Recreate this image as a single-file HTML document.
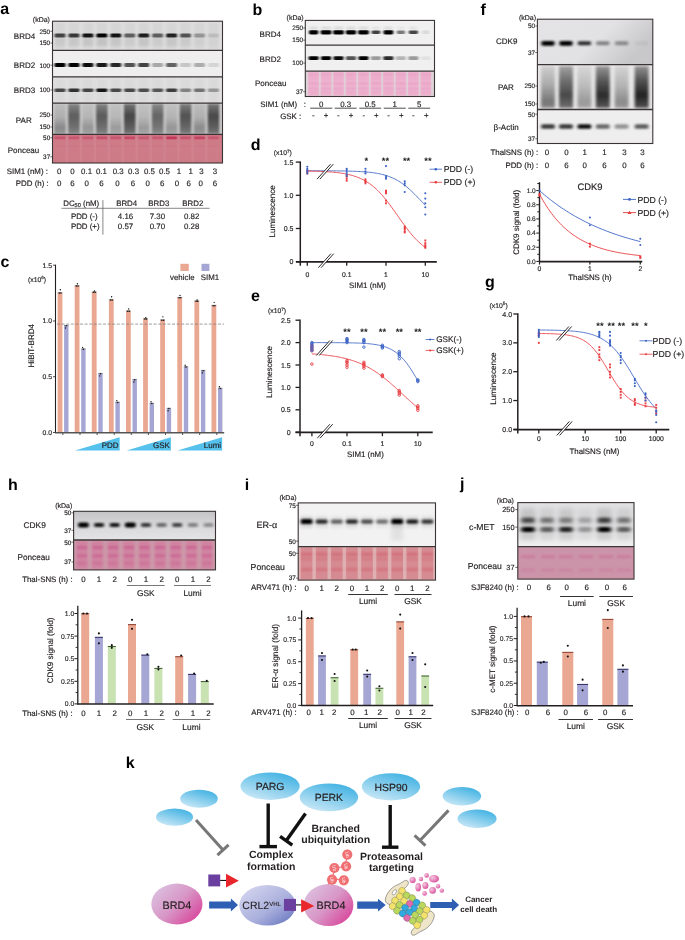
<!DOCTYPE html>
<html><head><meta charset="utf-8"><style>
html,body{margin:0;padding:0;background:#fff;}
svg{display:block;font-family:"Liberation Sans",sans-serif;text-rendering:geometricPrecision;will-change:transform;}
</style></head><body>
<svg width="685" height="940" viewBox="0 0 685 940">
<defs><filter id="b6" x="-50%" y="-50%" width="200%" height="200%"><feGaussianBlur stdDeviation="0.6"/></filter><filter id="bx6" x="-50%" y="-80%" width="200%" height="260%"><feGaussianBlur stdDeviation="0.90 0.60"/></filter><filter id="b7" x="-50%" y="-50%" width="200%" height="200%"><feGaussianBlur stdDeviation="0.7"/></filter><filter id="bx7" x="-50%" y="-80%" width="200%" height="260%"><feGaussianBlur stdDeviation="1.05 0.70"/></filter><filter id="b8" x="-50%" y="-50%" width="200%" height="200%"><feGaussianBlur stdDeviation="0.8"/></filter><filter id="bx8" x="-50%" y="-80%" width="200%" height="260%"><feGaussianBlur stdDeviation="1.20 0.80"/></filter><filter id="b9" x="-50%" y="-50%" width="200%" height="200%"><feGaussianBlur stdDeviation="0.9"/></filter><filter id="bx9" x="-50%" y="-80%" width="200%" height="260%"><feGaussianBlur stdDeviation="1.35 0.90"/></filter><filter id="b10" x="-50%" y="-50%" width="200%" height="200%"><feGaussianBlur stdDeviation="1.0"/></filter><filter id="bx10" x="-50%" y="-80%" width="200%" height="260%"><feGaussianBlur stdDeviation="1.50 1.00"/></filter><filter id="b12" x="-50%" y="-50%" width="200%" height="200%"><feGaussianBlur stdDeviation="1.2"/></filter><filter id="bx12" x="-50%" y="-80%" width="200%" height="260%"><feGaussianBlur stdDeviation="1.80 1.20"/></filter><filter id="b13" x="-50%" y="-50%" width="200%" height="200%"><feGaussianBlur stdDeviation="1.3"/></filter><filter id="bx13" x="-50%" y="-80%" width="200%" height="260%"><feGaussianBlur stdDeviation="1.95 1.30"/></filter><filter id="b15" x="-50%" y="-50%" width="200%" height="200%"><feGaussianBlur stdDeviation="1.5"/></filter><filter id="bx15" x="-50%" y="-80%" width="200%" height="260%"><feGaussianBlur stdDeviation="2.25 1.50"/></filter><filter id="b20" x="-50%" y="-50%" width="200%" height="200%"><feGaussianBlur stdDeviation="2.0"/></filter><filter id="bx20" x="-50%" y="-80%" width="200%" height="260%"><feGaussianBlur stdDeviation="3.00 2.00"/></filter><filter id="b25" x="-50%" y="-50%" width="200%" height="200%"><feGaussianBlur stdDeviation="2.5"/></filter><filter id="bx25" x="-50%" y="-80%" width="200%" height="260%"><feGaussianBlur stdDeviation="3.75 2.50"/></filter><filter id="b30" x="-50%" y="-50%" width="200%" height="200%"><feGaussianBlur stdDeviation="3.0"/></filter><filter id="bx30" x="-50%" y="-80%" width="200%" height="260%"><feGaussianBlur stdDeviation="4.50 3.00"/></filter><filter id="b40" x="-50%" y="-50%" width="200%" height="200%"><feGaussianBlur stdDeviation="4.0"/></filter><filter id="bx40" x="-50%" y="-80%" width="200%" height="260%"><feGaussianBlur stdDeviation="6.00 4.00"/></filter><linearGradient id="parg" x1="0" y1="0" x2="0" y2="1"><stop offset="0" stop-color="#2a2a2a"/><stop offset="0.45" stop-color="#383838"/><stop offset="1" stop-color="#606060"/></linearGradient><linearGradient id="parodd" x1="0" y1="0" x2="0" y2="1"><stop offset="0" stop-color="#b4b4b6"/><stop offset="0.45" stop-color="#9c9c9e"/><stop offset="0.78" stop-color="#606062"/><stop offset="1" stop-color="#747476"/></linearGradient><linearGradient id="pareven" x1="0" y1="0" x2="0" y2="1"><stop offset="0" stop-color="#6a6a6a"/><stop offset="0.4" stop-color="#333"/><stop offset="0.75" stop-color="#4a4a4a"/><stop offset="1" stop-color="#6a6a6a"/></linearGradient><linearGradient id="parlight" x1="0" y1="0" x2="0" y2="1"><stop offset="0" stop-color="#bdbdbf"/><stop offset="0.5" stop-color="#acacae"/><stop offset="1" stop-color="#8a8a8c"/></linearGradient><linearGradient id="ponca" x1="0" y1="0" x2="0" y2="1"><stop offset="0" stop-color="rgb(205,100,122)" stop-opacity="0.5"/><stop offset="0.4" stop-color="rgb(206,124,136)" stop-opacity="0"/><stop offset="1" stop-color="rgb(200,120,130)" stop-opacity="0.3"/></linearGradient><linearGradient id="cdkbg" x1="0" y1="0" x2="1" y2="0.4"><stop offset="0" stop-color="#e4e4e6"/><stop offset="0.6" stop-color="#e2e2e4"/><stop offset="1" stop-color="#c8c8ca"/></linearGradient><linearGradient id="parfodd" x1="0" y1="0" x2="0" y2="1"><stop offset="0" stop-color="#c8c8c8"/><stop offset="0.45" stop-color="#9a9a9a"/><stop offset="0.85" stop-color="#5a5a5a"/><stop offset="1" stop-color="#707070"/></linearGradient><linearGradient id="parf" x1="0" y1="0" x2="0" y2="1"><stop offset="0" stop-color="#909090"/><stop offset="0.35" stop-color="#505050"/><stop offset="0.7" stop-color="#222"/><stop offset="1" stop-color="#505050"/></linearGradient><linearGradient id="jbg" x1="0" y1="0" x2="0" y2="1"><stop offset="0" stop-color="#e2e2e4"/><stop offset="0.6" stop-color="#e4e4e6"/><stop offset="1" stop-color="#f0f0f0"/></linearGradient><linearGradient id="hbg" x1="0" y1="0" x2="0" y2="1"><stop offset="0" stop-color="#c4c4c6"/><stop offset="0.5" stop-color="#d8d8da"/><stop offset="1" stop-color="#e4e4e6"/></linearGradient><linearGradient id="gblue" x1="0.2" y1="1" x2="0.8" y2="0"><stop offset="0" stop-color="#cde9f7"/><stop offset="1" stop-color="#3cb0e2"/></linearGradient><linearGradient id="gpink" x1="0.05" y1="0.15" x2="0.95" y2="0.85"><stop offset="0" stop-color="#dcc0e0"/><stop offset="0.5" stop-color="#d896c6"/><stop offset="1" stop-color="#d8449a"/></linearGradient><linearGradient id="glav" x1="0.1" y1="0.1" x2="0.9" y2="0.9"><stop offset="0" stop-color="#d3d3ee"/><stop offset="0.6" stop-color="#a9afdc"/><stop offset="1" stop-color="#6f7cc3"/></linearGradient><radialGradient id="gpep" cx="0.35" cy="0.35" r="0.7"><stop offset="0" stop-color="#f6c8e0"/><stop offset="1" stop-color="#d8529c"/></radialGradient></defs>
<rect width="685" height="940" fill="#fff"/>
<text x="0.2" y="13.9" font-size="16" text-anchor="start" font-weight="bold" fill="#000" >a</text>
<rect x="52.5" y="21.2" width="170" height="29.2" fill="rgb(224,224,224)" />
<rect x="54.5" y="22.7" width="11" height="26.7" fill="rgb(200,200,200)" opacity="0.45" filter="url(#b15)"/>
<rect x="68.45" y="22.7" width="11" height="26.7" fill="rgb(200,200,200)" opacity="0.45" filter="url(#b15)"/>
<rect x="82.4" y="22.7" width="11" height="26.7" fill="rgb(200,200,200)" opacity="0.45" filter="url(#b15)"/>
<rect x="96.35" y="22.7" width="11" height="26.7" fill="rgb(200,200,200)" opacity="0.45" filter="url(#b15)"/>
<rect x="110.3" y="22.7" width="11" height="26.7" fill="rgb(200,200,200)" opacity="0.45" filter="url(#b15)"/>
<rect x="124.25" y="22.7" width="11" height="26.7" fill="rgb(200,200,200)" opacity="0.45" filter="url(#b15)"/>
<rect x="138.2" y="22.7" width="11" height="26.7" fill="rgb(200,200,200)" opacity="0.45" filter="url(#b15)"/>
<rect x="152.15" y="22.7" width="11" height="26.7" fill="rgb(200,200,200)" opacity="0.45" filter="url(#b15)"/>
<rect x="166.1" y="22.7" width="11" height="26.7" fill="rgb(200,200,200)" opacity="0.45" filter="url(#b15)"/>
<rect x="180.05" y="22.7" width="11" height="26.7" fill="rgb(200,200,200)" opacity="0.45" filter="url(#b15)"/>
<rect x="194" y="22.7" width="11" height="26.7" fill="rgb(200,200,200)" opacity="0.45" filter="url(#b15)"/>
<rect x="207.95" y="22.7" width="11" height="26.7" fill="rgb(200,200,200)" opacity="0.45" filter="url(#b15)"/>
<rect x="54.6" y="33.6" width="10.8" height="3.8" rx="1.27" fill="rgb(0,0,0)" opacity="0.69" filter="url(#bx6)"/>
<rect x="54.5" y="37" width="11" height="9" fill="#888" opacity="0.15" filter="url(#b15)"/>
<rect x="68.55" y="33.6" width="10.8" height="3.8" rx="1.27" fill="rgb(0,0,0)" opacity="0.74" filter="url(#bx6)"/>
<rect x="68.45" y="37" width="11" height="9" fill="#888" opacity="0.17" filter="url(#b15)"/>
<rect x="82.5" y="33.6" width="10.8" height="3.8" rx="1.27" fill="rgb(0,0,0)" opacity="0.92" filter="url(#bx6)"/>
<rect x="82.4" y="37" width="11" height="9" fill="#888" opacity="0.2" filter="url(#b15)"/>
<rect x="96.45" y="33.6" width="10.8" height="3.8" rx="1.27" fill="rgb(0,0,0)" opacity="1" filter="url(#bx6)"/>
<rect x="96.35" y="37" width="11" height="9" fill="#888" opacity="0.23" filter="url(#b15)"/>
<rect x="110.4" y="33.6" width="10.8" height="3.8" rx="1.27" fill="rgb(0,0,0)" opacity="0.92" filter="url(#bx6)"/>
<rect x="110.3" y="37" width="11" height="9" fill="#888" opacity="0.2" filter="url(#b15)"/>
<rect x="124.35" y="33.6" width="10.8" height="3.8" rx="1.27" fill="rgb(0,0,0)" opacity="0.56" filter="url(#bx6)"/>
<rect x="124.25" y="37" width="11" height="9" fill="#888" opacity="0.12" filter="url(#b15)"/>
<rect x="138.3" y="33.6" width="10.8" height="3.8" rx="1.27" fill="rgb(0,0,0)" opacity="0.87" filter="url(#bx6)"/>
<rect x="138.2" y="37" width="11" height="9" fill="#888" opacity="0.2" filter="url(#b15)"/>
<rect x="152.25" y="33.6" width="10.8" height="3.8" rx="1.27" fill="rgb(0,0,0)" opacity="0.56" filter="url(#bx6)"/>
<rect x="152.15" y="37" width="11" height="9" fill="#888" opacity="0.12" filter="url(#b15)"/>
<rect x="166.2" y="33.6" width="10.8" height="3.8" rx="1.27" fill="rgb(0,0,0)" opacity="0.85" filter="url(#bx6)"/>
<rect x="166.1" y="37" width="11" height="9" fill="#888" opacity="0.19" filter="url(#b15)"/>
<rect x="180.15" y="33.6" width="10.8" height="3.8" rx="1.27" fill="rgb(0,0,0)" opacity="0.62" filter="url(#bx6)"/>
<rect x="180.05" y="37" width="11" height="9" fill="#888" opacity="0.14" filter="url(#b15)"/>
<rect x="194.1" y="33.6" width="10.8" height="3.8" rx="1.27" fill="rgb(0,0,0)" opacity="0.3" filter="url(#bx6)"/>
<rect x="194" y="37" width="11" height="9" fill="#888" opacity="0.07" filter="url(#b15)"/>
<rect x="208.05" y="33.6" width="10.8" height="3.8" rx="1.27" fill="rgb(0,0,0)" opacity="0.11" filter="url(#bx6)"/>
<rect x="207.95" y="37" width="11" height="9" fill="#888" opacity="0.03" filter="url(#b15)"/>
<rect x="52.5" y="50.4" width="170" height="26.4" fill="rgb(238,238,238)" />
<rect x="54.5" y="63.1" width="11" height="4" rx="1.33" fill="rgb(0,0,0)" opacity="1" filter="url(#bx6)"/>
<rect x="68.45" y="63.1" width="11" height="4" rx="1.33" fill="rgb(0,0,0)" opacity="1" filter="url(#bx6)"/>
<rect x="82.4" y="63.1" width="11" height="4" rx="1.33" fill="rgb(0,0,0)" opacity="0.95" filter="url(#bx6)"/>
<rect x="96.35" y="63.1" width="11" height="4" rx="1.33" fill="rgb(0,0,0)" opacity="0.9" filter="url(#bx6)"/>
<rect x="110.3" y="63.1" width="11" height="4" rx="1.33" fill="rgb(0,0,0)" opacity="0.83" filter="url(#bx6)"/>
<rect x="124.25" y="63.1" width="11" height="4" rx="1.33" fill="rgb(0,0,0)" opacity="0.65" filter="url(#bx6)"/>
<rect x="138.2" y="63.1" width="11" height="4" rx="1.33" fill="rgb(0,0,0)" opacity="0.72" filter="url(#bx6)"/>
<rect x="152.15" y="63.1" width="11" height="4" rx="1.33" fill="rgb(0,0,0)" opacity="0.29" filter="url(#bx6)"/>
<rect x="166.1" y="63.1" width="11" height="4" rx="1.33" fill="rgb(0,0,0)" opacity="0.58" filter="url(#bx6)"/>
<rect x="180.05" y="63.1" width="11" height="4" rx="1.33" fill="rgb(0,0,0)" opacity="0.16" filter="url(#bx6)"/>
<rect x="194" y="63.1" width="11" height="4" rx="1.33" fill="rgb(0,0,0)" opacity="0.27" filter="url(#bx6)"/>
<rect x="207.95" y="63.1" width="11" height="4" rx="1.33" fill="rgb(0,0,0)" opacity="0.1" filter="url(#bx6)"/>
<rect x="52.5" y="76.8" width="170" height="26.4" fill="rgb(226,226,226)" />
<rect x="54.5" y="78.3" width="11" height="23.9" fill="rgb(205,205,205)" opacity="0.4" filter="url(#b15)"/>
<rect x="68.45" y="78.3" width="11" height="23.9" fill="rgb(205,205,205)" opacity="0.4" filter="url(#b15)"/>
<rect x="82.4" y="78.3" width="11" height="23.9" fill="rgb(205,205,205)" opacity="0.4" filter="url(#b15)"/>
<rect x="96.35" y="78.3" width="11" height="23.9" fill="rgb(205,205,205)" opacity="0.4" filter="url(#b15)"/>
<rect x="110.3" y="78.3" width="11" height="23.9" fill="rgb(205,205,205)" opacity="0.4" filter="url(#b15)"/>
<rect x="124.25" y="78.3" width="11" height="23.9" fill="rgb(205,205,205)" opacity="0.4" filter="url(#b15)"/>
<rect x="138.2" y="78.3" width="11" height="23.9" fill="rgb(205,205,205)" opacity="0.4" filter="url(#b15)"/>
<rect x="152.15" y="78.3" width="11" height="23.9" fill="rgb(205,205,205)" opacity="0.4" filter="url(#b15)"/>
<rect x="166.1" y="78.3" width="11" height="23.9" fill="rgb(205,205,205)" opacity="0.4" filter="url(#b15)"/>
<rect x="180.05" y="78.3" width="11" height="23.9" fill="rgb(205,205,205)" opacity="0.4" filter="url(#b15)"/>
<rect x="194" y="78.3" width="11" height="23.9" fill="rgb(205,205,205)" opacity="0.4" filter="url(#b15)"/>
<rect x="207.95" y="78.3" width="11" height="23.9" fill="rgb(205,205,205)" opacity="0.4" filter="url(#b15)"/>
<rect x="54.5" y="88.4" width="11" height="3.6" rx="1.2" fill="rgb(0,0,0)" opacity="0.67" filter="url(#bx6)"/>
<rect x="68.45" y="88.4" width="11" height="3.6" rx="1.2" fill="rgb(0,0,0)" opacity="0.78" filter="url(#bx6)"/>
<rect x="82.4" y="88.4" width="11" height="3.6" rx="1.2" fill="rgb(0,0,0)" opacity="0.69" filter="url(#bx6)"/>
<rect x="96.35" y="88.4" width="11" height="3.6" rx="1.2" fill="rgb(0,0,0)" opacity="0.9" filter="url(#bx6)"/>
<rect x="110.3" y="88.4" width="11" height="3.6" rx="1.2" fill="rgb(0,0,0)" opacity="0.67" filter="url(#bx6)"/>
<rect x="124.25" y="88.4" width="11" height="3.6" rx="1.2" fill="rgb(0,0,0)" opacity="0.67" filter="url(#bx6)"/>
<rect x="138.2" y="88.4" width="11" height="3.6" rx="1.2" fill="rgb(0,0,0)" opacity="0.65" filter="url(#bx6)"/>
<rect x="152.15" y="88.4" width="11" height="3.6" rx="1.2" fill="rgb(0,0,0)" opacity="0.6" filter="url(#bx6)"/>
<rect x="166.1" y="88.4" width="11" height="3.6" rx="1.2" fill="rgb(0,0,0)" opacity="0.72" filter="url(#bx6)"/>
<rect x="180.05" y="88.4" width="11" height="3.6" rx="1.2" fill="rgb(0,0,0)" opacity="0.4" filter="url(#bx6)"/>
<rect x="194" y="88.4" width="11" height="3.6" rx="1.2" fill="rgb(0,0,0)" opacity="0.47" filter="url(#bx6)"/>
<rect x="207.95" y="88.4" width="11" height="3.6" rx="1.2" fill="rgb(0,0,0)" opacity="0.31" filter="url(#bx6)"/>
<rect x="52.5" y="103.2" width="170" height="31.2" fill="rgb(205,205,205)" />
<rect x="54.2" y="103.7" width="11.6" height="30.2" fill="url(#parodd)" opacity="0.62" filter="url(#b12)"/>
<rect x="68.15" y="103.7" width="11.6" height="30.2" fill="url(#pareven)" opacity="0.72" filter="url(#b12)"/>
<rect x="82.1" y="103.7" width="11.6" height="30.2" fill="url(#parodd)" opacity="0.5" filter="url(#b12)"/>
<rect x="96.05" y="103.7" width="11.6" height="30.2" fill="url(#pareven)" opacity="0.74" filter="url(#b12)"/>
<rect x="110" y="103.7" width="11.6" height="30.2" fill="url(#parodd)" opacity="0.45" filter="url(#b12)"/>
<rect x="123.95" y="103.7" width="11.6" height="30.2" fill="url(#pareven)" opacity="0.88" filter="url(#b12)"/>
<rect x="137.9" y="103.7" width="11.6" height="30.2" fill="url(#parodd)" opacity="0.45" filter="url(#b12)"/>
<rect x="151.85" y="103.7" width="11.6" height="30.2" fill="url(#pareven)" opacity="0.68" filter="url(#b12)"/>
<rect x="165.8" y="103.7" width="11.6" height="30.2" fill="url(#parodd)" opacity="0.5" filter="url(#b12)"/>
<rect x="179.75" y="103.7" width="11.6" height="30.2" fill="url(#pareven)" opacity="0.8" filter="url(#b12)"/>
<rect x="193.7" y="103.7" width="11.6" height="30.2" fill="url(#parodd)" opacity="0.6" filter="url(#b12)"/>
<rect x="207.65" y="103.7" width="11.6" height="30.2" fill="url(#pareven)" opacity="0.86" filter="url(#b12)"/>
<rect x="52.5" y="134.4" width="170" height="28.6" fill="rgb(206,124,136)" />
<rect x="52.5" y="134.4" width="170" height="28.6" fill="url(#ponca)"/>
<rect x="65.8" y="134.4" width="2.2" height="28.6" fill="rgb(212,140,150)" opacity="0.45" filter="url(#b6)"/>
<rect x="79.75" y="134.4" width="2.2" height="28.6" fill="rgb(212,140,150)" opacity="0.45" filter="url(#b6)"/>
<rect x="93.7" y="134.4" width="2.2" height="28.6" fill="rgb(212,140,150)" opacity="0.45" filter="url(#b6)"/>
<rect x="107.65" y="134.4" width="2.2" height="28.6" fill="rgb(212,140,150)" opacity="0.45" filter="url(#b6)"/>
<rect x="121.6" y="134.4" width="2.2" height="28.6" fill="rgb(212,140,150)" opacity="0.45" filter="url(#b6)"/>
<rect x="135.55" y="134.4" width="2.2" height="28.6" fill="rgb(212,140,150)" opacity="0.45" filter="url(#b6)"/>
<rect x="149.5" y="134.4" width="2.2" height="28.6" fill="rgb(212,140,150)" opacity="0.45" filter="url(#b6)"/>
<rect x="163.45" y="134.4" width="2.2" height="28.6" fill="rgb(212,140,150)" opacity="0.45" filter="url(#b6)"/>
<rect x="177.4" y="134.4" width="2.2" height="28.6" fill="rgb(212,140,150)" opacity="0.45" filter="url(#b6)"/>
<rect x="191.35" y="134.4" width="2.2" height="28.6" fill="rgb(212,140,150)" opacity="0.45" filter="url(#b6)"/>
<rect x="205.3" y="134.4" width="2.2" height="28.6" fill="rgb(212,140,150)" opacity="0.45" filter="url(#b6)"/>
<rect x="54.7" y="136.6" width="10.6" height="2.6" rx="1" fill="rgb(190,40,80)" opacity="0.4" filter="url(#b6)"/>
<rect x="55" y="145.4" width="10" height="1.4" fill="rgb(200,90,115)" opacity="0.18" filter="url(#b6)"/>
<rect x="68.65" y="136.6" width="10.6" height="2.6" rx="1" fill="rgb(190,40,80)" opacity="0.36" filter="url(#b6)"/>
<rect x="68.95" y="145.4" width="10" height="1.4" fill="rgb(200,90,115)" opacity="0.18" filter="url(#b6)"/>
<rect x="82.6" y="136.6" width="10.6" height="2.6" rx="1" fill="rgb(190,40,80)" opacity="0.32" filter="url(#b6)"/>
<rect x="82.9" y="145.4" width="10" height="1.4" fill="rgb(200,90,115)" opacity="0.18" filter="url(#b6)"/>
<rect x="96.55" y="136.6" width="10.6" height="2.6" rx="1" fill="rgb(190,40,80)" opacity="0.45" filter="url(#b6)"/>
<rect x="96.85" y="145.4" width="10" height="1.4" fill="rgb(200,90,115)" opacity="0.18" filter="url(#b6)"/>
<rect x="110.5" y="136.6" width="10.6" height="2.6" rx="1" fill="rgb(190,40,80)" opacity="0.36" filter="url(#b6)"/>
<rect x="110.8" y="145.4" width="10" height="1.4" fill="rgb(200,90,115)" opacity="0.18" filter="url(#b6)"/>
<rect x="124.45" y="136.6" width="10.6" height="2.6" rx="1" fill="rgb(190,40,80)" opacity="0.55" filter="url(#b6)"/>
<rect x="124.75" y="145.4" width="10" height="1.4" fill="rgb(200,90,115)" opacity="0.18" filter="url(#b6)"/>
<rect x="138.4" y="136.6" width="10.6" height="2.6" rx="1" fill="rgb(190,40,80)" opacity="0.32" filter="url(#b6)"/>
<rect x="138.7" y="145.4" width="10" height="1.4" fill="rgb(200,90,115)" opacity="0.18" filter="url(#b6)"/>
<rect x="152.35" y="136.6" width="10.6" height="2.6" rx="1" fill="rgb(190,40,80)" opacity="0.36" filter="url(#b6)"/>
<rect x="152.65" y="145.4" width="10" height="1.4" fill="rgb(200,90,115)" opacity="0.18" filter="url(#b6)"/>
<rect x="166.3" y="136.6" width="10.6" height="2.6" rx="1" fill="rgb(190,40,80)" opacity="0.75" filter="url(#b6)"/>
<rect x="166.6" y="145.4" width="10" height="1.4" fill="rgb(200,90,115)" opacity="0.18" filter="url(#b6)"/>
<rect x="180.25" y="136.6" width="10.6" height="2.6" rx="1" fill="rgb(190,40,80)" opacity="0.4" filter="url(#b6)"/>
<rect x="180.55" y="145.4" width="10" height="1.4" fill="rgb(200,90,115)" opacity="0.18" filter="url(#b6)"/>
<rect x="194.2" y="136.6" width="10.6" height="2.6" rx="1" fill="rgb(190,40,80)" opacity="0.6" filter="url(#b6)"/>
<rect x="194.5" y="145.4" width="10" height="1.4" fill="rgb(200,90,115)" opacity="0.18" filter="url(#b6)"/>
<rect x="208.15" y="136.6" width="10.6" height="2.6" rx="1" fill="rgb(190,40,80)" opacity="0.36" filter="url(#b6)"/>
<rect x="208.45" y="145.4" width="10" height="1.4" fill="rgb(200,90,115)" opacity="0.18" filter="url(#b6)"/>
<rect x="52.5" y="21.2" width="170" height="141.8" fill="none" stroke="#3a3434" stroke-width="1.1"/>
<line x1="52.5" y1="50.4" x2="222.5" y2="50.4" stroke="#3a3434" stroke-width="1.3" />
<line x1="52.5" y1="76.8" x2="222.5" y2="76.8" stroke="#3a3434" stroke-width="1.3" />
<line x1="52.5" y1="103.2" x2="222.5" y2="103.2" stroke="#3a3434" stroke-width="1.3" />
<line x1="52.5" y1="134.4" x2="222.5" y2="134.4" stroke="#3a3434" stroke-width="1.3" />
<text x="32.8" y="22.22" font-size="7" text-anchor="start" font-weight="normal" fill="#231f20" stroke="#231f20" stroke-width="0.16" >(kDa)</text>
<text x="13.8" y="38.58" font-size="8" text-anchor="start" font-weight="normal" fill="#231f20" stroke="#231f20" stroke-width="0.16" >BRD4</text>
<text x="13.8" y="67.88" font-size="8" text-anchor="start" font-weight="normal" fill="#231f20" stroke="#231f20" stroke-width="0.16" >BRD2</text>
<text x="13.8" y="92.98" font-size="8" text-anchor="start" font-weight="normal" fill="#231f20" stroke="#231f20" stroke-width="0.16" >BRD3</text>
<text x="15.8" y="123.18" font-size="8" text-anchor="start" font-weight="normal" fill="#231f20" stroke="#231f20" stroke-width="0.16" >PAR</text>
<text x="7.7" y="152.98" font-size="8" text-anchor="start" font-weight="normal" fill="#231f20" stroke="#231f20" stroke-width="0.16" >Ponceau</text>
<text x="50.2" y="33.6" font-size="6.4" text-anchor="end" font-weight="normal" fill="#231f20" stroke="#231f20" stroke-width="0.16" >250</text>
<line x1="50.3" y1="31.3" x2="52.5" y2="31.3" stroke="#231f20" stroke-width="0.6" />
<text x="50.2" y="45.3" font-size="6.4" text-anchor="end" font-weight="normal" fill="#231f20" stroke="#231f20" stroke-width="0.16" >150</text>
<line x1="50.3" y1="43" x2="52.5" y2="43" stroke="#231f20" stroke-width="0.6" />
<text x="50.2" y="67.5" font-size="6.4" text-anchor="end" font-weight="normal" fill="#231f20" stroke="#231f20" stroke-width="0.16" >100</text>
<line x1="50.3" y1="65.2" x2="52.5" y2="65.2" stroke="#231f20" stroke-width="0.6" />
<text x="50.2" y="92.3" font-size="6.4" text-anchor="end" font-weight="normal" fill="#231f20" stroke="#231f20" stroke-width="0.16" >100</text>
<line x1="50.3" y1="90" x2="52.5" y2="90" stroke="#231f20" stroke-width="0.6" />
<text x="50.2" y="117.3" font-size="6.4" text-anchor="end" font-weight="normal" fill="#231f20" stroke="#231f20" stroke-width="0.16" >250</text>
<line x1="50.3" y1="115" x2="52.5" y2="115" stroke="#231f20" stroke-width="0.6" />
<text x="50.2" y="129.3" font-size="6.4" text-anchor="end" font-weight="normal" fill="#231f20" stroke="#231f20" stroke-width="0.16" >150</text>
<line x1="50.3" y1="127" x2="52.5" y2="127" stroke="#231f20" stroke-width="0.6" />
<text x="50.2" y="140.1" font-size="6.4" text-anchor="end" font-weight="normal" fill="#231f20" stroke="#231f20" stroke-width="0.16" >50</text>
<line x1="50.3" y1="137.8" x2="52.5" y2="137.8" stroke="#231f20" stroke-width="0.6" />
<text x="50.2" y="159.1" font-size="6.4" text-anchor="end" font-weight="normal" fill="#231f20" stroke="#231f20" stroke-width="0.16" >37</text>
<line x1="50.3" y1="156.8" x2="52.5" y2="156.8" stroke="#231f20" stroke-width="0.6" />
<text x="6.7" y="173.94" font-size="7.9" text-anchor="start" font-weight="normal" fill="#231f20" stroke="#231f20" stroke-width="0.16" >SIM1 (nM) :</text>
<text x="48.7" y="186.34" font-size="7.9" text-anchor="end" font-weight="normal" fill="#231f20" stroke="#231f20" stroke-width="0.16" >PDD (h) :</text>
<text x="59.1" y="173.94" font-size="7.9" text-anchor="middle" font-weight="normal" fill="#231f20" stroke="#231f20" stroke-width="0.16" >0</text>
<text x="72.5" y="173.94" font-size="7.9" text-anchor="middle" font-weight="normal" fill="#231f20" stroke="#231f20" stroke-width="0.16" >0</text>
<text x="86.6" y="173.94" font-size="7.9" text-anchor="middle" font-weight="normal" fill="#231f20" stroke="#231f20" stroke-width="0.16" >0.1</text>
<text x="101.4" y="173.94" font-size="7.9" text-anchor="middle" font-weight="normal" fill="#231f20" stroke="#231f20" stroke-width="0.16" >0.1</text>
<text x="118.2" y="173.94" font-size="7.9" text-anchor="middle" font-weight="normal" fill="#231f20" stroke="#231f20" stroke-width="0.16" >0.3</text>
<text x="133.6" y="173.94" font-size="7.9" text-anchor="middle" font-weight="normal" fill="#231f20" stroke="#231f20" stroke-width="0.16" >0.3</text>
<text x="149.4" y="173.94" font-size="7.9" text-anchor="middle" font-weight="normal" fill="#231f20" stroke="#231f20" stroke-width="0.16" >0.5</text>
<text x="164.5" y="173.94" font-size="7.9" text-anchor="middle" font-weight="normal" fill="#231f20" stroke="#231f20" stroke-width="0.16" >0.5</text>
<text x="179" y="173.94" font-size="7.9" text-anchor="middle" font-weight="normal" fill="#231f20" stroke="#231f20" stroke-width="0.16" >1</text>
<text x="190.7" y="173.94" font-size="7.9" text-anchor="middle" font-weight="normal" fill="#231f20" stroke="#231f20" stroke-width="0.16" >1</text>
<text x="201.5" y="173.94" font-size="7.9" text-anchor="middle" font-weight="normal" fill="#231f20" stroke="#231f20" stroke-width="0.16" >3</text>
<text x="214.9" y="173.94" font-size="7.9" text-anchor="middle" font-weight="normal" fill="#231f20" stroke="#231f20" stroke-width="0.16" >3</text>
<text x="59.1" y="186.34" font-size="7.9" text-anchor="middle" font-weight="normal" fill="#231f20" stroke="#231f20" stroke-width="0.16" >0</text>
<text x="72.5" y="186.34" font-size="7.9" text-anchor="middle" font-weight="normal" fill="#231f20" stroke="#231f20" stroke-width="0.16" >6</text>
<text x="86.6" y="186.34" font-size="7.9" text-anchor="middle" font-weight="normal" fill="#231f20" stroke="#231f20" stroke-width="0.16" >0</text>
<text x="101.4" y="186.34" font-size="7.9" text-anchor="middle" font-weight="normal" fill="#231f20" stroke="#231f20" stroke-width="0.16" >6</text>
<text x="117.5" y="186.34" font-size="7.9" text-anchor="middle" font-weight="normal" fill="#231f20" stroke="#231f20" stroke-width="0.16" >0</text>
<text x="133" y="186.34" font-size="7.9" text-anchor="middle" font-weight="normal" fill="#231f20" stroke="#231f20" stroke-width="0.16" >6</text>
<text x="147.7" y="186.34" font-size="7.9" text-anchor="middle" font-weight="normal" fill="#231f20" stroke="#231f20" stroke-width="0.16" >0</text>
<text x="162.2" y="186.34" font-size="7.9" text-anchor="middle" font-weight="normal" fill="#231f20" stroke="#231f20" stroke-width="0.16" >6</text>
<text x="177" y="186.34" font-size="7.9" text-anchor="middle" font-weight="normal" fill="#231f20" stroke="#231f20" stroke-width="0.16" >0</text>
<text x="188.7" y="186.34" font-size="7.9" text-anchor="middle" font-weight="normal" fill="#231f20" stroke="#231f20" stroke-width="0.16" >6</text>
<text x="200.8" y="186.34" font-size="7.9" text-anchor="middle" font-weight="normal" fill="#231f20" stroke="#231f20" stroke-width="0.16" >0</text>
<text x="214.9" y="186.34" font-size="7.9" text-anchor="middle" font-weight="normal" fill="#231f20" stroke="#231f20" stroke-width="0.16" >6</text>
<text x="63.2" y="206.44" font-size="7.9" text-anchor="start" font-weight="normal" fill="#231f20" stroke="#231f20" stroke-width="0.16" >DC<tspan font-size="5.6" dy="0.8">50</tspan><tspan dy="-0.8"> (nM)</tspan></text>
<line x1="61.5" y1="208.3" x2="209.6" y2="208.3" stroke="#555" stroke-width="0.7" />
<line x1="102.9" y1="200.1" x2="102.9" y2="234.7" stroke="#555" stroke-width="0.7" />
<text x="126.7" y="206.44" font-size="7.9" text-anchor="middle" font-weight="normal" fill="#231f20" stroke="#231f20" stroke-width="0.16" >BRD4</text>
<text x="158.9" y="206.44" font-size="7.9" text-anchor="middle" font-weight="normal" fill="#231f20" stroke="#231f20" stroke-width="0.16" >BRD3</text>
<text x="192.9" y="206.44" font-size="7.9" text-anchor="middle" font-weight="normal" fill="#231f20" stroke="#231f20" stroke-width="0.16" >BRD2</text>
<text x="70.9" y="218.84" font-size="7.9" text-anchor="start" font-weight="normal" fill="#231f20" stroke="#231f20" stroke-width="0.16" >PDD (-)</text>
<text x="70.9" y="229.34" font-size="7.9" text-anchor="start" font-weight="normal" fill="#231f20" stroke="#231f20" stroke-width="0.16" >PDD (+)</text>
<text x="125.5" y="218.84" font-size="7.9" text-anchor="middle" font-weight="normal" fill="#231f20" stroke="#231f20" stroke-width="0.16" >4.16</text>
<text x="125.5" y="229.34" font-size="7.9" text-anchor="middle" font-weight="normal" fill="#231f20" stroke="#231f20" stroke-width="0.16" >0.57</text>
<text x="157.4" y="218.84" font-size="7.9" text-anchor="middle" font-weight="normal" fill="#231f20" stroke="#231f20" stroke-width="0.16" >7.30</text>
<text x="157.4" y="229.34" font-size="7.9" text-anchor="middle" font-weight="normal" fill="#231f20" stroke="#231f20" stroke-width="0.16" >0.70</text>
<text x="191.6" y="218.84" font-size="7.9" text-anchor="middle" font-weight="normal" fill="#231f20" stroke="#231f20" stroke-width="0.16" >0.82</text>
<text x="191.6" y="229.34" font-size="7.9" text-anchor="middle" font-weight="normal" fill="#231f20" stroke="#231f20" stroke-width="0.16" >0.28</text>
<text x="252.6" y="14.6" font-size="16" text-anchor="start" font-weight="bold" fill="#000" >b</text>
<rect x="305.3" y="20.4" width="129.2" height="24.8" fill="rgb(240,240,240)" />
<rect x="309" y="30.2" width="9.2" height="4.2" rx="1.4" fill="rgb(0,0,0)" opacity="1" filter="url(#bx7)"/>
<rect x="309.5" y="27" width="8.2" height="2" rx="0.67" fill="rgb(0,0,0)" opacity="0.12" filter="url(#bx10)"/>
<rect x="320.72" y="30.2" width="10.7" height="4.2" rx="1.4" fill="rgb(0,0,0)" opacity="1" filter="url(#bx7)"/>
<rect x="321.22" y="27" width="9.7" height="2" rx="0.67" fill="rgb(0,0,0)" opacity="0.13" filter="url(#bx10)"/>
<rect x="333.19" y="30.2" width="10.7" height="4.2" rx="1.4" fill="rgb(0,0,0)" opacity="1" filter="url(#bx7)"/>
<rect x="333.69" y="27" width="9.7" height="2" rx="0.67" fill="rgb(0,0,0)" opacity="0.13" filter="url(#bx10)"/>
<rect x="345.91" y="30.2" width="10.2" height="4.2" rx="1.4" fill="rgb(0,0,0)" opacity="1" filter="url(#bx7)"/>
<rect x="346.41" y="27" width="9.2" height="2" rx="0.67" fill="rgb(0,0,0)" opacity="0.13" filter="url(#bx10)"/>
<rect x="358.13" y="30.2" width="10.7" height="4.2" rx="1.4" fill="rgb(0,0,0)" opacity="1" filter="url(#bx7)"/>
<rect x="358.63" y="27" width="9.7" height="2" rx="0.67" fill="rgb(0,0,0)" opacity="0.13" filter="url(#bx10)"/>
<rect x="371.6" y="30.6" width="8.7" height="3.4" rx="1.13" fill="rgb(0,0,0)" opacity="0.73" filter="url(#bx7)"/>
<rect x="372.1" y="27" width="7.7" height="2" rx="0.67" fill="rgb(0,0,0)" opacity="0.08" filter="url(#bx10)"/>
<rect x="383.57" y="30.2" width="9.7" height="4.2" rx="1.4" fill="rgb(0,0,0)" opacity="1" filter="url(#bx7)"/>
<rect x="384.07" y="27" width="8.7" height="2" rx="0.67" fill="rgb(0,0,0)" opacity="0.12" filter="url(#bx10)"/>
<rect x="396.79" y="30.6" width="8.2" height="3.4" rx="1.13" fill="rgb(0,0,0)" opacity="0.49" filter="url(#bx7)"/>
<rect x="397.29" y="27" width="7.2" height="2" rx="0.67" fill="rgb(0,0,0)" opacity="0.06" filter="url(#bx10)"/>
<rect x="408.76" y="30.6" width="9.2" height="3.4" rx="1.13" fill="rgb(0,0,0)" opacity="0.71" filter="url(#bx7)"/>
<rect x="409.26" y="27" width="8.2" height="2" rx="0.67" fill="rgb(0,0,0)" opacity="0.08" filter="url(#bx10)"/>
<rect x="422.23" y="30.6" width="7.2" height="3.4" rx="1.13" fill="rgb(0,0,0)" opacity="0.09" filter="url(#bx7)"/>
<rect x="305.3" y="45.2" width="129.2" height="26" fill="rgb(240,240,240)" />
<rect x="308.6" y="56.3" width="10" height="3.8" rx="1.27" fill="rgb(0,0,0)" opacity="1" filter="url(#bx7)"/>
<rect x="321.07" y="56.3" width="10" height="3.8" rx="1.27" fill="rgb(0,0,0)" opacity="1" filter="url(#bx7)"/>
<rect x="333.54" y="56.3" width="10" height="3.8" rx="1.27" fill="rgb(0,0,0)" opacity="0.94" filter="url(#bx7)"/>
<rect x="346.01" y="56.3" width="10" height="3.8" rx="1.27" fill="rgb(0,0,0)" opacity="0.65" filter="url(#bx7)"/>
<rect x="358.48" y="56.3" width="10" height="3.8" rx="1.27" fill="rgb(0,0,0)" opacity="1" filter="url(#bx7)"/>
<rect x="370.95" y="56.3" width="10" height="3.8" rx="1.27" fill="rgb(0,0,0)" opacity="0.35" filter="url(#bx7)"/>
<rect x="383.42" y="56.3" width="10" height="3.8" rx="1.27" fill="rgb(0,0,0)" opacity="0.82" filter="url(#bx7)"/>
<rect x="395.89" y="56.3" width="10" height="3.8" rx="1.27" fill="rgb(0,0,0)" opacity="0.24" filter="url(#bx7)"/>
<rect x="408.36" y="56.3" width="10" height="3.8" rx="1.27" fill="rgb(0,0,0)" opacity="0.35" filter="url(#bx7)"/>
<rect x="420.83" y="56.3" width="10" height="3.8" rx="1.27" fill="rgb(0,0,0)" opacity="0.05" filter="url(#bx7)"/>
<rect x="305.3" y="71.2" width="129.2" height="25.3" fill="rgb(222,212,218)" />
<rect x="308.3" y="72" width="10.6" height="23.7" fill="rgb(238,182,208)" filter="url(#b6)"/>
<rect x="308.6" y="73.5" width="10" height="2.2" fill="rgb(228,135,185)" opacity="0.55" filter="url(#b8)"/>
<rect x="308.6" y="77.5" width="10" height="2.2" fill="rgb(228,135,185)" opacity="0.3" filter="url(#b8)"/>
<rect x="308.6" y="82.5" width="10" height="2.2" fill="rgb(228,135,185)" opacity="0.5" filter="url(#b8)"/>
<rect x="308.6" y="87.5" width="10" height="2.2" fill="rgb(228,135,185)" opacity="0.45" filter="url(#b8)"/>
<rect x="308.6" y="91.5" width="10" height="2.2" fill="rgb(228,135,185)" opacity="0.35" filter="url(#b8)"/>
<rect x="320.77" y="72" width="10.6" height="23.7" fill="rgb(238,182,208)" filter="url(#b6)"/>
<rect x="321.07" y="73.5" width="10" height="2.2" fill="rgb(228,135,185)" opacity="0.55" filter="url(#b8)"/>
<rect x="321.07" y="77.5" width="10" height="2.2" fill="rgb(228,135,185)" opacity="0.3" filter="url(#b8)"/>
<rect x="321.07" y="82.5" width="10" height="2.2" fill="rgb(228,135,185)" opacity="0.5" filter="url(#b8)"/>
<rect x="321.07" y="87.5" width="10" height="2.2" fill="rgb(228,135,185)" opacity="0.45" filter="url(#b8)"/>
<rect x="321.07" y="91.5" width="10" height="2.2" fill="rgb(228,135,185)" opacity="0.35" filter="url(#b8)"/>
<rect x="333.24" y="72" width="10.6" height="23.7" fill="rgb(238,182,208)" filter="url(#b6)"/>
<rect x="333.54" y="73.5" width="10" height="2.2" fill="rgb(228,135,185)" opacity="0.55" filter="url(#b8)"/>
<rect x="333.54" y="77.5" width="10" height="2.2" fill="rgb(228,135,185)" opacity="0.3" filter="url(#b8)"/>
<rect x="333.54" y="82.5" width="10" height="2.2" fill="rgb(228,135,185)" opacity="0.5" filter="url(#b8)"/>
<rect x="333.54" y="87.5" width="10" height="2.2" fill="rgb(228,135,185)" opacity="0.45" filter="url(#b8)"/>
<rect x="333.54" y="91.5" width="10" height="2.2" fill="rgb(228,135,185)" opacity="0.35" filter="url(#b8)"/>
<rect x="345.71" y="72" width="10.6" height="23.7" fill="rgb(238,182,208)" filter="url(#b6)"/>
<rect x="346.01" y="73.5" width="10" height="2.2" fill="rgb(228,135,185)" opacity="0.55" filter="url(#b8)"/>
<rect x="346.01" y="77.5" width="10" height="2.2" fill="rgb(228,135,185)" opacity="0.3" filter="url(#b8)"/>
<rect x="346.01" y="82.5" width="10" height="2.2" fill="rgb(228,135,185)" opacity="0.5" filter="url(#b8)"/>
<rect x="346.01" y="87.5" width="10" height="2.2" fill="rgb(228,135,185)" opacity="0.45" filter="url(#b8)"/>
<rect x="346.01" y="91.5" width="10" height="2.2" fill="rgb(228,135,185)" opacity="0.35" filter="url(#b8)"/>
<rect x="358.18" y="72" width="10.6" height="23.7" fill="rgb(238,182,208)" filter="url(#b6)"/>
<rect x="358.48" y="73.5" width="10" height="2.2" fill="rgb(228,135,185)" opacity="0.55" filter="url(#b8)"/>
<rect x="358.48" y="77.5" width="10" height="2.2" fill="rgb(228,135,185)" opacity="0.3" filter="url(#b8)"/>
<rect x="358.48" y="82.5" width="10" height="2.2" fill="rgb(228,135,185)" opacity="0.5" filter="url(#b8)"/>
<rect x="358.48" y="87.5" width="10" height="2.2" fill="rgb(228,135,185)" opacity="0.45" filter="url(#b8)"/>
<rect x="358.48" y="91.5" width="10" height="2.2" fill="rgb(228,135,185)" opacity="0.35" filter="url(#b8)"/>
<rect x="370.65" y="72" width="10.6" height="23.7" fill="rgb(238,182,208)" filter="url(#b6)"/>
<rect x="370.95" y="73.5" width="10" height="2.2" fill="rgb(228,135,185)" opacity="0.55" filter="url(#b8)"/>
<rect x="370.95" y="77.5" width="10" height="2.2" fill="rgb(228,135,185)" opacity="0.3" filter="url(#b8)"/>
<rect x="370.95" y="82.5" width="10" height="2.2" fill="rgb(228,135,185)" opacity="0.5" filter="url(#b8)"/>
<rect x="370.95" y="87.5" width="10" height="2.2" fill="rgb(228,135,185)" opacity="0.45" filter="url(#b8)"/>
<rect x="370.95" y="91.5" width="10" height="2.2" fill="rgb(228,135,185)" opacity="0.35" filter="url(#b8)"/>
<rect x="383.12" y="72" width="10.6" height="23.7" fill="rgb(238,182,208)" filter="url(#b6)"/>
<rect x="383.42" y="73.5" width="10" height="2.2" fill="rgb(228,135,185)" opacity="0.55" filter="url(#b8)"/>
<rect x="383.42" y="77.5" width="10" height="2.2" fill="rgb(228,135,185)" opacity="0.3" filter="url(#b8)"/>
<rect x="383.42" y="82.5" width="10" height="2.2" fill="rgb(228,135,185)" opacity="0.5" filter="url(#b8)"/>
<rect x="383.42" y="87.5" width="10" height="2.2" fill="rgb(228,135,185)" opacity="0.45" filter="url(#b8)"/>
<rect x="383.42" y="91.5" width="10" height="2.2" fill="rgb(228,135,185)" opacity="0.35" filter="url(#b8)"/>
<rect x="395.59" y="72" width="10.6" height="23.7" fill="rgb(238,182,208)" filter="url(#b6)"/>
<rect x="395.89" y="73.5" width="10" height="2.2" fill="rgb(228,135,185)" opacity="0.55" filter="url(#b8)"/>
<rect x="395.89" y="77.5" width="10" height="2.2" fill="rgb(228,135,185)" opacity="0.3" filter="url(#b8)"/>
<rect x="395.89" y="82.5" width="10" height="2.2" fill="rgb(228,135,185)" opacity="0.5" filter="url(#b8)"/>
<rect x="395.89" y="87.5" width="10" height="2.2" fill="rgb(228,135,185)" opacity="0.45" filter="url(#b8)"/>
<rect x="395.89" y="91.5" width="10" height="2.2" fill="rgb(228,135,185)" opacity="0.35" filter="url(#b8)"/>
<rect x="408.06" y="72" width="10.6" height="23.7" fill="rgb(238,182,208)" filter="url(#b6)"/>
<rect x="408.36" y="73.5" width="10" height="2.2" fill="rgb(228,135,185)" opacity="0.55" filter="url(#b8)"/>
<rect x="408.36" y="77.5" width="10" height="2.2" fill="rgb(228,135,185)" opacity="0.3" filter="url(#b8)"/>
<rect x="408.36" y="82.5" width="10" height="2.2" fill="rgb(228,135,185)" opacity="0.5" filter="url(#b8)"/>
<rect x="408.36" y="87.5" width="10" height="2.2" fill="rgb(228,135,185)" opacity="0.45" filter="url(#b8)"/>
<rect x="408.36" y="91.5" width="10" height="2.2" fill="rgb(228,135,185)" opacity="0.35" filter="url(#b8)"/>
<rect x="420.53" y="72" width="10.6" height="23.7" fill="rgb(238,182,208)" filter="url(#b6)"/>
<rect x="420.83" y="73.5" width="10" height="2.2" fill="rgb(228,135,185)" opacity="0.55" filter="url(#b8)"/>
<rect x="420.83" y="77.5" width="10" height="2.2" fill="rgb(228,135,185)" opacity="0.3" filter="url(#b8)"/>
<rect x="420.83" y="82.5" width="10" height="2.2" fill="rgb(228,135,185)" opacity="0.5" filter="url(#b8)"/>
<rect x="420.83" y="87.5" width="10" height="2.2" fill="rgb(228,135,185)" opacity="0.45" filter="url(#b8)"/>
<rect x="420.83" y="91.5" width="10" height="2.2" fill="rgb(228,135,185)" opacity="0.35" filter="url(#b8)"/>
<rect x="305.3" y="20.4" width="129.2" height="76.1" fill="none" stroke="#3a3434" stroke-width="1.1"/>
<line x1="305.3" y1="45.2" x2="434.5" y2="45.2" stroke="#3a3434" stroke-width="1.3" />
<line x1="305.3" y1="71.2" x2="434.5" y2="71.2" stroke="#3a3434" stroke-width="1.3" />
<text x="286.6" y="20.32" font-size="7" text-anchor="start" font-weight="normal" fill="#231f20" stroke="#231f20" stroke-width="0.16" >(kDa)</text>
<text x="259.6" y="37.18" font-size="8" text-anchor="start" font-weight="normal" fill="#231f20" stroke="#231f20" stroke-width="0.16" >BRD4</text>
<text x="259.6" y="61.98" font-size="8" text-anchor="start" font-weight="normal" fill="#231f20" stroke="#231f20" stroke-width="0.16" >BRD2</text>
<text x="254.9" y="86.38" font-size="8" text-anchor="start" font-weight="normal" fill="#231f20" stroke="#231f20" stroke-width="0.16" >Ponceau</text>
<text x="303" y="30.3" font-size="6.4" text-anchor="end" font-weight="normal" fill="#231f20" stroke="#231f20" stroke-width="0.16" >250</text>
<line x1="303.1" y1="28" x2="305.3" y2="28" stroke="#231f20" stroke-width="0.6" />
<text x="303" y="42.4" font-size="6.4" text-anchor="end" font-weight="normal" fill="#231f20" stroke="#231f20" stroke-width="0.16" >150</text>
<line x1="303.1" y1="40.1" x2="305.3" y2="40.1" stroke="#231f20" stroke-width="0.6" />
<text x="303" y="65.4" font-size="6.4" text-anchor="end" font-weight="normal" fill="#231f20" stroke="#231f20" stroke-width="0.16" >100</text>
<line x1="303.1" y1="63.1" x2="305.3" y2="63.1" stroke="#231f20" stroke-width="0.6" />
<text x="303" y="94" font-size="6.4" text-anchor="end" font-weight="normal" fill="#231f20" stroke="#231f20" stroke-width="0.16" >37</text>
<line x1="303.1" y1="91.7" x2="305.3" y2="91.7" stroke="#231f20" stroke-width="0.6" />
<text x="260.3" y="106.84" font-size="7.9" text-anchor="start" font-weight="normal" fill="#231f20" stroke="#231f20" stroke-width="0.16" >SIM1 (nM)&#160;&#160;&#160;:</text>
<text x="301.2" y="118.64" font-size="7.9" text-anchor="end" font-weight="normal" fill="#231f20" stroke="#231f20" stroke-width="0.16" >GSK  :</text>
<line x1="310.2" y1="108.2" x2="332.3" y2="108.2" stroke="#231f20" stroke-width="0.8" />
<text x="321.25" y="106.74" font-size="7.9" text-anchor="middle" font-weight="normal" fill="#231f20" stroke="#231f20" stroke-width="0.16" >0</text>
<line x1="334.7" y1="108.2" x2="356.6" y2="108.2" stroke="#231f20" stroke-width="0.8" />
<text x="345.65" y="106.74" font-size="7.9" text-anchor="middle" font-weight="normal" fill="#231f20" stroke="#231f20" stroke-width="0.16" >0.3</text>
<line x1="359.3" y1="108.2" x2="381.1" y2="108.2" stroke="#231f20" stroke-width="0.8" />
<text x="370.2" y="106.74" font-size="7.9" text-anchor="middle" font-weight="normal" fill="#231f20" stroke="#231f20" stroke-width="0.16" >0.5</text>
<line x1="383.8" y1="108.2" x2="405.7" y2="108.2" stroke="#231f20" stroke-width="0.8" />
<text x="394.75" y="106.74" font-size="7.9" text-anchor="middle" font-weight="normal" fill="#231f20" stroke="#231f20" stroke-width="0.16" >1</text>
<line x1="408.3" y1="108.2" x2="430.2" y2="108.2" stroke="#231f20" stroke-width="0.8" />
<text x="419.25" y="106.74" font-size="7.9" text-anchor="middle" font-weight="normal" fill="#231f20" stroke="#231f20" stroke-width="0.16" >5</text>
<text x="313.3" y="118.34" font-size="7.9" text-anchor="middle" font-weight="normal" fill="#231f20" stroke="#231f20" stroke-width="0.16" >-</text>
<text x="326" y="118.34" font-size="7.9" text-anchor="middle" font-weight="normal" fill="#231f20" stroke="#231f20" stroke-width="0.16" >+</text>
<text x="338.2" y="118.34" font-size="7.9" text-anchor="middle" font-weight="normal" fill="#231f20" stroke="#231f20" stroke-width="0.16" >-</text>
<text x="351.1" y="118.34" font-size="7.9" text-anchor="middle" font-weight="normal" fill="#231f20" stroke="#231f20" stroke-width="0.16" >+</text>
<text x="363.8" y="118.34" font-size="7.9" text-anchor="middle" font-weight="normal" fill="#231f20" stroke="#231f20" stroke-width="0.16" >-</text>
<text x="376.2" y="118.34" font-size="7.9" text-anchor="middle" font-weight="normal" fill="#231f20" stroke="#231f20" stroke-width="0.16" >+</text>
<text x="388.5" y="118.34" font-size="7.9" text-anchor="middle" font-weight="normal" fill="#231f20" stroke="#231f20" stroke-width="0.16" >-</text>
<text x="401.2" y="118.34" font-size="7.9" text-anchor="middle" font-weight="normal" fill="#231f20" stroke="#231f20" stroke-width="0.16" >+</text>
<text x="413.4" y="118.34" font-size="7.9" text-anchor="middle" font-weight="normal" fill="#231f20" stroke="#231f20" stroke-width="0.16" >-</text>
<text x="426.3" y="118.34" font-size="7.9" text-anchor="middle" font-weight="normal" fill="#231f20" stroke="#231f20" stroke-width="0.16" >+</text>
<text x="0.5" y="267.2" font-size="16" text-anchor="start" font-weight="bold" fill="#000" >c</text>
<rect x="57.6" y="292.75" width="4.8" height="139.75" fill="#eaa892" />
<rect x="64.1" y="325.43" width="4.4" height="107.07" fill="#a5a6d4" />
<circle cx="59.3" cy="293.05" r="0.75" fill="#111"/>
<circle cx="60.9" cy="293.05" r="0.75" fill="#111"/>
<circle cx="60.3" cy="289.75" r="0.7" fill="#111"/>
<circle cx="66.3" cy="325.73" r="0.75" fill="#111"/>
<circle cx="65.5" cy="327.93" r="0.7" fill="#111"/>
<line x1="57.6" y1="292.75" x2="62.4" y2="292.75" stroke="#333" stroke-width="0.5" />
<line x1="64.1" y1="325.43" x2="68.5" y2="325.43" stroke="#333" stroke-width="0.5" />
<line x1="62.9" y1="432.5" x2="62.9" y2="435" stroke="#231f20" stroke-width="0.8" />
<rect x="74.7" y="285.72" width="4.8" height="146.78" fill="#eaa892" />
<rect x="81.2" y="348.85" width="4.4" height="83.65" fill="#a5a6d4" />
<circle cx="76.4" cy="286.02" r="0.75" fill="#111"/>
<circle cx="78" cy="286.02" r="0.75" fill="#111"/>
<circle cx="77.4" cy="283.72" r="0.7" fill="#111"/>
<circle cx="83.4" cy="349.15" r="0.75" fill="#111"/>
<circle cx="82.6" cy="347.35" r="0.7" fill="#111"/>
<line x1="74.7" y1="285.72" x2="79.5" y2="285.72" stroke="#333" stroke-width="0.5" />
<line x1="81.2" y1="348.85" x2="85.6" y2="348.85" stroke="#333" stroke-width="0.5" />
<line x1="80" y1="432.5" x2="80" y2="435" stroke="#231f20" stroke-width="0.8" />
<rect x="91.8" y="291.97" width="4.8" height="140.53" fill="#eaa892" />
<rect x="98.3" y="373.39" width="4.4" height="59.11" fill="#a5a6d4" />
<circle cx="93.5" cy="292.27" r="0.75" fill="#111"/>
<circle cx="95.1" cy="292.27" r="0.75" fill="#111"/>
<circle cx="94.5" cy="290.97" r="0.7" fill="#111"/>
<circle cx="100.5" cy="373.69" r="0.75" fill="#111"/>
<circle cx="99.7" cy="375.89" r="0.7" fill="#111"/>
<line x1="91.8" y1="291.97" x2="96.6" y2="291.97" stroke="#333" stroke-width="0.5" />
<line x1="98.3" y1="373.39" x2="102.7" y2="373.39" stroke="#333" stroke-width="0.5" />
<line x1="97.1" y1="432.5" x2="97.1" y2="435" stroke="#231f20" stroke-width="0.8" />
<rect x="108.9" y="299.78" width="4.8" height="132.72" fill="#eaa892" />
<rect x="115.4" y="402.16" width="4.4" height="30.34" fill="#a5a6d4" />
<circle cx="110.6" cy="300.08" r="0.75" fill="#111"/>
<circle cx="112.2" cy="300.08" r="0.75" fill="#111"/>
<circle cx="111.6" cy="296.78" r="0.7" fill="#111"/>
<circle cx="117.6" cy="402.46" r="0.75" fill="#111"/>
<circle cx="116.8" cy="400.66" r="0.7" fill="#111"/>
<line x1="108.9" y1="299.78" x2="113.7" y2="299.78" stroke="#333" stroke-width="0.5" />
<line x1="115.4" y1="402.16" x2="119.8" y2="402.16" stroke="#333" stroke-width="0.5" />
<line x1="114.2" y1="432.5" x2="114.2" y2="435" stroke="#231f20" stroke-width="0.8" />
<rect x="126" y="310.93" width="4.8" height="121.57" fill="#eaa892" />
<rect x="132.5" y="379.52" width="4.4" height="52.98" fill="#a5a6d4" />
<circle cx="127.7" cy="311.23" r="0.75" fill="#111"/>
<circle cx="129.3" cy="311.23" r="0.75" fill="#111"/>
<circle cx="128.7" cy="308.93" r="0.7" fill="#111"/>
<circle cx="134.7" cy="379.82" r="0.75" fill="#111"/>
<circle cx="133.9" cy="382.02" r="0.7" fill="#111"/>
<line x1="126" y1="310.93" x2="130.8" y2="310.93" stroke="#333" stroke-width="0.5" />
<line x1="132.5" y1="379.52" x2="136.9" y2="379.52" stroke="#333" stroke-width="0.5" />
<line x1="131.3" y1="432.5" x2="131.3" y2="435" stroke="#231f20" stroke-width="0.8" />
<rect x="143.1" y="318.74" width="4.8" height="113.76" fill="#eaa892" />
<rect x="149.6" y="403.28" width="4.4" height="29.22" fill="#a5a6d4" />
<circle cx="144.8" cy="319.04" r="0.75" fill="#111"/>
<circle cx="146.4" cy="319.04" r="0.75" fill="#111"/>
<circle cx="145.8" cy="317.74" r="0.7" fill="#111"/>
<circle cx="151.8" cy="403.58" r="0.75" fill="#111"/>
<circle cx="151" cy="401.78" r="0.7" fill="#111"/>
<line x1="143.1" y1="318.74" x2="147.9" y2="318.74" stroke="#333" stroke-width="0.5" />
<line x1="149.6" y1="403.28" x2="154" y2="403.28" stroke="#333" stroke-width="0.5" />
<line x1="148.4" y1="432.5" x2="148.4" y2="435" stroke="#231f20" stroke-width="0.8" />
<rect x="160.2" y="319.85" width="4.8" height="112.65" fill="#eaa892" />
<rect x="166.7" y="408.3" width="4.4" height="24.2" fill="#a5a6d4" />
<circle cx="161.9" cy="320.15" r="0.75" fill="#111"/>
<circle cx="163.5" cy="320.15" r="0.75" fill="#111"/>
<circle cx="162.9" cy="316.85" r="0.7" fill="#111"/>
<circle cx="168.9" cy="408.6" r="0.75" fill="#111"/>
<circle cx="168.1" cy="410.8" r="0.7" fill="#111"/>
<line x1="160.2" y1="319.85" x2="165" y2="319.85" stroke="#333" stroke-width="0.5" />
<line x1="166.7" y1="408.3" x2="171.1" y2="408.3" stroke="#333" stroke-width="0.5" />
<line x1="165.5" y1="432.5" x2="165.5" y2="435" stroke="#231f20" stroke-width="0.8" />
<rect x="177.3" y="297.54" width="4.8" height="134.96" fill="#eaa892" />
<rect x="183.8" y="366.7" width="4.4" height="65.8" fill="#a5a6d4" />
<circle cx="179" cy="297.84" r="0.75" fill="#111"/>
<circle cx="180.6" cy="297.84" r="0.75" fill="#111"/>
<circle cx="180" cy="295.54" r="0.7" fill="#111"/>
<circle cx="186" cy="367" r="0.75" fill="#111"/>
<circle cx="185.2" cy="365.2" r="0.7" fill="#111"/>
<line x1="177.3" y1="297.54" x2="182.1" y2="297.54" stroke="#333" stroke-width="0.5" />
<line x1="183.8" y1="366.7" x2="188.2" y2="366.7" stroke="#333" stroke-width="0.5" />
<line x1="182.6" y1="432.5" x2="182.6" y2="435" stroke="#231f20" stroke-width="0.8" />
<rect x="194.4" y="300.89" width="4.8" height="131.61" fill="#eaa892" />
<rect x="200.9" y="370.38" width="4.4" height="62.12" fill="#a5a6d4" />
<circle cx="196.1" cy="301.19" r="0.75" fill="#111"/>
<circle cx="197.7" cy="301.19" r="0.75" fill="#111"/>
<circle cx="197.1" cy="299.89" r="0.7" fill="#111"/>
<circle cx="203.1" cy="370.68" r="0.75" fill="#111"/>
<circle cx="202.3" cy="372.88" r="0.7" fill="#111"/>
<line x1="194.4" y1="300.89" x2="199.2" y2="300.89" stroke="#333" stroke-width="0.5" />
<line x1="200.9" y1="370.38" x2="205.3" y2="370.38" stroke="#333" stroke-width="0.5" />
<line x1="199.7" y1="432.5" x2="199.7" y2="435" stroke="#231f20" stroke-width="0.8" />
<rect x="211.5" y="305.35" width="4.8" height="127.15" fill="#eaa892" />
<rect x="218" y="388.22" width="4.4" height="44.28" fill="#a5a6d4" />
<circle cx="213.2" cy="305.65" r="0.75" fill="#111"/>
<circle cx="214.8" cy="305.65" r="0.75" fill="#111"/>
<circle cx="214.2" cy="302.35" r="0.7" fill="#111"/>
<circle cx="220.2" cy="388.52" r="0.75" fill="#111"/>
<circle cx="219.4" cy="386.72" r="0.7" fill="#111"/>
<line x1="211.5" y1="305.35" x2="216.3" y2="305.35" stroke="#333" stroke-width="0.5" />
<line x1="218" y1="388.22" x2="222.4" y2="388.22" stroke="#333" stroke-width="0.5" />
<line x1="216.8" y1="432.5" x2="216.8" y2="435" stroke="#231f20" stroke-width="0.8" />
<line x1="57" y1="324.1" x2="224" y2="324.1" stroke="#777" stroke-width="0.7" stroke-dasharray="3,1.6"/>
<line x1="55.5" y1="264.7" x2="55.5" y2="433" stroke="#231f20" stroke-width="1.1" />
<line x1="55" y1="432.8" x2="224.2" y2="432.8" stroke="#555" stroke-width="1.6" />
<line x1="53" y1="265.2" x2="55.5" y2="265.2" stroke="#231f20" stroke-width="0.8" />
<text x="52" y="267.65" font-size="6.8" text-anchor="end" font-weight="normal" fill="#231f20" stroke="#231f20" stroke-width="0.16" >1.5</text>
<line x1="53" y1="320.97" x2="55.5" y2="320.97" stroke="#231f20" stroke-width="0.8" />
<text x="52" y="323.41" font-size="6.8" text-anchor="end" font-weight="normal" fill="#231f20" stroke="#231f20" stroke-width="0.16" >1.0</text>
<line x1="53" y1="376.73" x2="55.5" y2="376.73" stroke="#231f20" stroke-width="0.8" />
<text x="52" y="379.18" font-size="6.8" text-anchor="end" font-weight="normal" fill="#231f20" stroke="#231f20" stroke-width="0.16" >0.5</text>
<line x1="53" y1="432.5" x2="55.5" y2="432.5" stroke="#231f20" stroke-width="0.8" />
<text x="52" y="434.95" font-size="6.8" text-anchor="end" font-weight="normal" fill="#231f20" stroke="#231f20" stroke-width="0.16" >0.0</text>
<text x="28" y="282.05" font-size="6.8" text-anchor="start" font-weight="normal" fill="#231f20" stroke="#231f20" stroke-width="0.16" >(x10<tspan font-size="4.6" dy="-2.6">6</tspan><tspan dy="2.6">)</tspan></text>
<text x="0" y="2.92" font-size="8.1" text-anchor="middle" font-weight="normal" fill="#231f20" stroke="#231f20" stroke-width="0.16" transform="translate(31.4,345.7) rotate(-90)">HiBiT-BRD4</text>
<rect x="180.4" y="263.8" width="8.4" height="7.2" fill="#eaa892" />
<rect x="201.5" y="263.8" width="7.9" height="7.2" fill="#a5a6d4" />
<text x="182.3" y="280.34" font-size="7.9" text-anchor="middle" font-weight="normal" fill="#231f20" stroke="#231f20" stroke-width="0.16" >vehicle</text>
<text x="210" y="280.34" font-size="7.9" text-anchor="middle" font-weight="normal" fill="#231f20" stroke="#231f20" stroke-width="0.16" >SIM1</text>
<polygon points="75,450.4 119.6,450.4 119.6,437.2" fill="#55c1ec"/>
<text x="118.6" y="448.48" font-size="8" text-anchor="end" font-weight="normal" fill="#231f20" stroke="#231f20" stroke-width="0.16" >PDD</text>
<polygon points="126.7,450.4 170.9,450.4 170.9,437.2" fill="#55c1ec"/>
<text x="169.9" y="448.48" font-size="8" text-anchor="end" font-weight="normal" fill="#231f20" stroke="#231f20" stroke-width="0.16" >GSK</text>
<polygon points="177.4,450.4 222.1,450.4 222.1,437.2" fill="#55c1ec"/>
<text x="221.1" y="448.48" font-size="8" text-anchor="end" font-weight="normal" fill="#231f20" stroke="#231f20" stroke-width="0.16" >Lumi</text>
<text x="250.8" y="150" font-size="16" text-anchor="start" font-weight="bold" fill="#000" >d</text>
<path d="M307.30,170.75 L308.63,170.75 L309.95,170.76 L311.28,170.76 L312.60,170.76 L313.93,170.76 L315.26,170.77 L316.58,170.77 L317.91,170.77 L319.23,170.78 L320.56,170.78 L321.88,170.79 L323.21,170.79 L324.54,170.80 L325.86,170.81 L327.19,170.81 L328.51,170.82 L329.84,170.83 L331.17,170.84 L332.49,170.85 L333.82,170.86 L335.14,170.87 L336.47,170.89 L337.79,170.90 L339.12,170.92 L340.45,170.94 L341.77,170.96 L343.10,170.98 L344.42,171.01 L345.75,171.03 L347.08,171.06 L348.40,171.09 L349.73,171.13 L351.05,171.17 L352.38,171.21 L353.70,171.26 L355.03,171.31 L356.36,171.36 L357.68,171.42 L359.01,171.49 L360.33,171.56 L361.66,171.64 L362.99,171.73 L364.31,171.83 L365.64,171.93 L366.96,172.05 L368.29,172.18 L369.61,172.31 L370.94,172.46 L372.27,172.63 L373.59,172.81 L374.92,173.00 L376.24,173.22 L377.57,173.45 L378.90,173.70 L380.22,173.98 L381.55,174.27 L382.87,174.60 L384.20,174.95 L385.52,175.33 L386.85,175.74 L388.18,176.19 L389.50,176.67 L390.83,177.19 L392.15,177.75 L393.48,178.35 L394.81,178.99 L396.13,179.68 L397.46,180.41 L398.78,181.19 L400.11,182.02 L401.43,182.90 L402.76,183.83 L404.09,184.81 L405.41,185.84 L406.74,186.92 L408.06,188.04 L409.39,189.21 L410.72,190.42 L412.04,191.67 L413.37,192.96 L414.69,194.27 L416.02,195.61 L417.34,196.98 L418.67,198.35 L420.00,199.74 L421.32,201.13 L422.65,202.52 L423.97,203.89 L425.30,205.26" fill="none" stroke="#3b62c4" stroke-width="0.85"/>
<path d="M307.30,171.02 L308.63,171.04 L309.95,171.07 L311.28,171.10 L312.60,171.13 L313.93,171.16 L315.26,171.20 L316.58,171.24 L317.91,171.29 L319.23,171.34 L320.56,171.39 L321.88,171.45 L323.21,171.51 L324.54,171.58 L325.86,171.65 L327.19,171.73 L328.51,171.82 L329.84,171.91 L331.17,172.02 L332.49,172.13 L333.82,172.25 L335.14,172.38 L336.47,172.52 L337.79,172.68 L339.12,172.84 L340.45,173.03 L341.77,173.22 L343.10,173.44 L344.42,173.67 L345.75,173.92 L347.08,174.19 L348.40,174.48 L349.73,174.79 L351.05,175.13 L352.38,175.50 L353.70,175.90 L355.03,176.32 L356.36,176.78 L357.68,177.28 L359.01,177.81 L360.33,178.38 L361.66,178.99 L362.99,179.65 L364.31,180.35 L365.64,181.10 L366.96,181.90 L368.29,182.76 L369.61,183.67 L370.94,184.63 L372.27,185.65 L373.59,186.73 L374.92,187.87 L376.24,189.08 L377.57,190.34 L378.90,191.67 L380.22,193.05 L381.55,194.50 L382.87,196.01 L384.20,197.57 L385.52,199.18 L386.85,200.85 L388.18,202.56 L389.50,204.32 L390.83,206.11 L392.15,207.94 L393.48,209.79 L394.81,211.67 L396.13,213.55 L397.46,215.45 L398.78,217.34 L400.11,219.23 L401.43,221.10 L402.76,222.96 L404.09,224.79 L405.41,226.59 L406.74,228.35 L408.06,230.07 L409.39,231.75 L410.72,233.37 L412.04,234.94 L413.37,236.45 L414.69,237.91 L416.02,239.31 L417.34,240.64 L418.67,241.91 L420.00,243.12 L421.32,244.28 L422.65,245.36 L423.97,246.40 L425.30,247.37" fill="none" stroke="#e83a3f" stroke-width="0.85"/>
<rect x="306.35" y="172.44" width="1.9" height="1.9" fill="#e83a3f"/>
<rect x="306.35" y="171.11" width="1.9" height="1.9" fill="#e83a3f"/>
<rect x="306.35" y="169.78" width="1.9" height="1.9" fill="#e83a3f"/>
<rect x="345.75" y="179.74" width="1.9" height="1.9" fill="#e83a3f"/>
<rect x="345.75" y="177.75" width="1.9" height="1.9" fill="#e83a3f"/>
<rect x="345.75" y="175.76" width="1.9" height="1.9" fill="#e83a3f"/>
<rect x="345.75" y="174.43" width="1.9" height="1.9" fill="#e83a3f"/>
<rect x="364.5" y="182.4" width="1.9" height="1.9" fill="#e83a3f"/>
<rect x="364.5" y="181.07" width="1.9" height="1.9" fill="#e83a3f"/>
<rect x="364.5" y="179.74" width="1.9" height="1.9" fill="#e83a3f"/>
<rect x="364.5" y="178.41" width="1.9" height="1.9" fill="#e83a3f"/>
<rect x="385.05" y="202.32" width="1.9" height="1.9" fill="#e83a3f"/>
<rect x="385.05" y="199.66" width="1.9" height="1.9" fill="#e83a3f"/>
<rect x="385.05" y="192.36" width="1.9" height="1.9" fill="#e83a3f"/>
<rect x="385.05" y="191.03" width="1.9" height="1.9" fill="#e83a3f"/>
<rect x="385.05" y="189.7" width="1.9" height="1.9" fill="#e83a3f"/>
<rect x="403.8" y="231.53" width="1.9" height="1.9" fill="#e83a3f"/>
<rect x="403.8" y="230.21" width="1.9" height="1.9" fill="#e83a3f"/>
<rect x="403.8" y="228.21" width="1.9" height="1.9" fill="#e83a3f"/>
<rect x="403.8" y="226.89" width="1.9" height="1.9" fill="#e83a3f"/>
<rect x="403.8" y="225.56" width="1.9" height="1.9" fill="#e83a3f"/>
<rect x="424.35" y="246.81" width="1.9" height="1.9" fill="#e83a3f"/>
<rect x="424.35" y="245.48" width="1.9" height="1.9" fill="#e83a3f"/>
<rect x="424.35" y="244.15" width="1.9" height="1.9" fill="#e83a3f"/>
<rect x="424.35" y="242.16" width="1.9" height="1.9" fill="#e83a3f"/>
<rect x="424.35" y="239.5" width="1.9" height="1.9" fill="#e83a3f"/>
<circle cx="307.3" cy="173.39" r="1.05" fill="#3b62c4"/>
<circle cx="307.3" cy="171.4" r="1.05" fill="#3b62c4"/>
<circle cx="307.3" cy="170.07" r="1.05" fill="#3b62c4"/>
<circle cx="307.3" cy="168.74" r="1.05" fill="#3b62c4"/>
<circle cx="307.3" cy="166.75" r="1.05" fill="#3b62c4"/>
<circle cx="346.7" cy="176.04" r="1.05" fill="#3b62c4"/>
<circle cx="346.7" cy="174.05" r="1.05" fill="#3b62c4"/>
<circle cx="346.7" cy="172.06" r="1.05" fill="#3b62c4"/>
<circle cx="346.7" cy="170.07" r="1.05" fill="#3b62c4"/>
<circle cx="346.7" cy="168.74" r="1.05" fill="#3b62c4"/>
<circle cx="365.45" cy="173.39" r="1.05" fill="#3b62c4"/>
<circle cx="365.45" cy="171.4" r="1.05" fill="#3b62c4"/>
<circle cx="365.45" cy="168.74" r="1.05" fill="#3b62c4"/>
<circle cx="386" cy="178.7" r="1.05" fill="#3b62c4"/>
<circle cx="386" cy="177.37" r="1.05" fill="#3b62c4"/>
<circle cx="386" cy="176.04" r="1.05" fill="#3b62c4"/>
<circle cx="386" cy="166.08" r="1.05" fill="#3b62c4"/>
<circle cx="404.75" cy="191.98" r="1.05" fill="#3b62c4"/>
<circle cx="404.75" cy="185.34" r="1.05" fill="#3b62c4"/>
<circle cx="404.75" cy="183.35" r="1.05" fill="#3b62c4"/>
<circle cx="404.75" cy="181.36" r="1.05" fill="#3b62c4"/>
<circle cx="425.3" cy="214.56" r="1.05" fill="#3b62c4"/>
<circle cx="425.3" cy="207.25" r="1.05" fill="#3b62c4"/>
<circle cx="425.3" cy="203.27" r="1.05" fill="#3b62c4"/>
<circle cx="425.3" cy="198.62" r="1.05" fill="#3b62c4"/>
<circle cx="425.3" cy="193.31" r="1.05" fill="#3b62c4"/>
<polygon points="317.25,179.1 319.65,179.1 333.15,164.1 330.75,164.1" fill="#fff"/>
<line x1="317.05" y1="179.1" x2="330.55" y2="164.1" stroke="#231f20" stroke-width="0.95"/>
<line x1="319.85" y1="179.1" x2="333.35" y2="164.1" stroke="#231f20" stroke-width="0.95"/>
<line x1="300.3" y1="161.4" x2="300.3" y2="265.7" stroke="#231f20" stroke-width="1.5" />
<line x1="296" y1="261.9" x2="436.8" y2="261.9" stroke="#231f20" stroke-width="1.7" />
<line x1="295.8" y1="162.1" x2="300" y2="162.1" stroke="#231f20" stroke-width="1.3" />
<text x="293.4" y="164.62" font-size="7" text-anchor="end" font-weight="normal" fill="#231f20" stroke="#231f20" stroke-width="0.16" >1.5</text>
<line x1="295.8" y1="195.3" x2="300" y2="195.3" stroke="#231f20" stroke-width="1.3" />
<text x="293.4" y="197.82" font-size="7" text-anchor="end" font-weight="normal" fill="#231f20" stroke="#231f20" stroke-width="0.16" >1.0</text>
<line x1="295.8" y1="228.5" x2="300" y2="228.5" stroke="#231f20" stroke-width="1.3" />
<text x="293.4" y="231.02" font-size="7" text-anchor="end" font-weight="normal" fill="#231f20" stroke="#231f20" stroke-width="0.16" >0.5</text>
<line x1="295.8" y1="261.7" x2="300" y2="261.7" stroke="#231f20" stroke-width="1.3" />
<text x="293.4" y="264.22" font-size="7" text-anchor="end" font-weight="normal" fill="#231f20" stroke="#231f20" stroke-width="0.16" >0</text>
<line x1="307.3" y1="261.7" x2="307.3" y2="265.7" stroke="#231f20" stroke-width="1.3" />
<text x="307.3" y="276.65" font-size="6.8" text-anchor="middle" font-weight="normal" fill="#231f20" stroke="#231f20" stroke-width="0.16" >0</text>
<line x1="346.7" y1="261.7" x2="346.7" y2="265.7" stroke="#231f20" stroke-width="1.3" />
<text x="346.7" y="276.65" font-size="6.8" text-anchor="middle" font-weight="normal" fill="#231f20" stroke="#231f20" stroke-width="0.16" >0.1</text>
<line x1="386" y1="261.7" x2="386" y2="265.7" stroke="#231f20" stroke-width="1.3" />
<text x="386" y="276.65" font-size="6.8" text-anchor="middle" font-weight="normal" fill="#231f20" stroke="#231f20" stroke-width="0.16" >1</text>
<line x1="425.3" y1="261.7" x2="425.3" y2="265.7" stroke="#231f20" stroke-width="1.3" />
<text x="425.3" y="276.65" font-size="6.8" text-anchor="middle" font-weight="normal" fill="#231f20" stroke="#231f20" stroke-width="0.16" >10</text>
<polygon points="318.5,267.7 320.9,267.7 333.5,253.7 331.1,253.7" fill="#fff"/>
<line x1="318.3" y1="267.7" x2="330.9" y2="253.7" stroke="#231f20" stroke-width="0.95"/>
<line x1="321.1" y1="267.7" x2="333.7" y2="253.7" stroke="#231f20" stroke-width="0.95"/>
<text x="273.8" y="155.45" font-size="6.8" text-anchor="start" font-weight="normal" fill="#231f20" stroke="#231f20" stroke-width="0.16" >(x10<tspan font-size="4.6" dy="-2.6">7</tspan><tspan dy="2.6">)</tspan></text>
<text x="0" y="2.92" font-size="8.1" text-anchor="middle" font-weight="normal" fill="#231f20" stroke="#231f20" stroke-width="0.16" transform="translate(272.0,211.4) rotate(-90)">Luminescence</text>
<text x="367.5" y="288.14" font-size="7.9" text-anchor="middle" font-weight="normal" fill="#231f20" stroke="#231f20" stroke-width="0.16" >SIM1 (nM)</text>
<text x="366.3" y="164" font-size="9.4" text-anchor="middle" font-weight="bold" fill="#231f20" >*</text>
<text x="385.4" y="164" font-size="9.4" text-anchor="middle" font-weight="bold" fill="#231f20" >**</text>
<text x="406.6" y="164" font-size="9.4" text-anchor="middle" font-weight="bold" fill="#231f20" >**</text>
<text x="427.9" y="164" font-size="9.4" text-anchor="middle" font-weight="bold" fill="#231f20" >**</text>
<line x1="429.6" y1="169.2" x2="442" y2="169.2" stroke="#3b62c4" stroke-width="0.8" />
<circle cx="435.8" cy="169.2" r="1.3" fill="#3b62c4"/>
<line x1="429.6" y1="182.3" x2="442" y2="182.3" stroke="#e83a3f" stroke-width="0.8" />
<circle cx="435.8" cy="182.3" r="1.3" fill="#e83a3f"/>
<text x="443.8" y="172.33" font-size="8.7" text-anchor="start" font-weight="normal" fill="#231f20" stroke="#231f20" stroke-width="0.16" >PDD (-)</text>
<text x="443.8" y="185.43" font-size="8.7" text-anchor="start" font-weight="normal" fill="#231f20" stroke="#231f20" stroke-width="0.16" >PDD (+)</text>
<text x="251" y="301.4" font-size="16" text-anchor="start" font-weight="bold" fill="#000" >e</text>
<path d="M311.90,342.61 L313.09,342.61 L314.28,342.61 L315.47,342.61 L316.66,342.61 L317.85,342.62 L319.04,342.62 L320.23,342.62 L321.42,342.62 L322.61,342.62 L323.80,342.63 L324.99,342.63 L326.18,342.63 L327.37,342.64 L328.56,342.64 L329.75,342.64 L330.94,342.65 L332.13,342.65 L333.32,342.66 L334.51,342.67 L335.70,342.67 L336.89,342.68 L338.08,342.69 L339.27,342.70 L340.46,342.71 L341.65,342.72 L342.84,342.73 L344.03,342.75 L345.22,342.76 L346.41,342.78 L347.60,342.80 L348.79,342.82 L349.98,342.84 L351.17,342.86 L352.36,342.89 L353.55,342.92 L354.74,342.95 L355.93,342.99 L357.12,343.03 L358.31,343.08 L359.50,343.13 L360.69,343.18 L361.88,343.24 L363.07,343.31 L364.26,343.38 L365.44,343.46 L366.63,343.55 L367.82,343.65 L369.01,343.76 L370.20,343.88 L371.39,344.01 L372.58,344.15 L373.77,344.31 L374.96,344.48 L376.15,344.68 L377.34,344.89 L378.53,345.12 L379.72,345.37 L380.91,345.65 L382.10,345.96 L383.29,346.30 L384.48,346.66 L385.67,347.07 L386.86,347.50 L388.05,347.98 L389.24,348.51 L390.43,349.08 L391.62,349.70 L392.81,350.37 L394.00,351.10 L395.19,351.89 L396.38,352.75 L397.57,353.67 L398.76,354.66 L399.95,355.73 L401.14,356.87 L402.33,358.09 L403.52,359.39 L404.71,360.77 L405.90,362.23 L407.09,363.77 L408.28,365.39 L409.47,367.09 L410.66,368.86 L411.85,370.69 L413.04,372.59 L414.23,374.55 L415.42,376.56 L416.61,378.60 L417.80,380.68" fill="none" stroke="#3b62c4" stroke-width="0.85"/>
<path d="M311.90,353.90 L313.09,353.98 L314.28,354.06 L315.47,354.14 L316.66,354.23 L317.85,354.33 L319.04,354.43 L320.23,354.53 L321.42,354.64 L322.61,354.76 L323.80,354.88 L324.99,355.01 L326.18,355.14 L327.37,355.28 L328.56,355.43 L329.75,355.59 L330.94,355.75 L332.13,355.92 L333.32,356.10 L334.51,356.29 L335.70,356.49 L336.89,356.70 L338.08,356.92 L339.27,357.15 L340.46,357.39 L341.65,357.64 L342.84,357.91 L344.03,358.18 L345.22,358.47 L346.41,358.78 L347.60,359.09 L348.79,359.42 L349.98,359.77 L351.17,360.13 L352.36,360.51 L353.55,360.90 L354.74,361.32 L355.93,361.74 L357.12,362.19 L358.31,362.66 L359.50,363.14 L360.69,363.64 L361.88,364.17 L363.07,364.71 L364.26,365.28 L365.44,365.86 L366.63,366.47 L367.82,367.10 L369.01,367.75 L370.20,368.42 L371.39,369.12 L372.58,369.84 L373.77,370.58 L374.96,371.34 L376.15,372.13 L377.34,372.94 L378.53,373.77 L379.72,374.62 L380.91,375.49 L382.10,376.38 L383.29,377.30 L384.48,378.23 L385.67,379.19 L386.86,380.16 L388.05,381.15 L389.24,382.15 L390.43,383.17 L391.62,384.21 L392.81,385.25 L394.00,386.31 L395.19,387.39 L396.38,388.46 L397.57,389.55 L398.76,390.65 L399.95,391.74 L401.14,392.84 L402.33,393.95 L403.52,395.05 L404.71,396.15 L405.90,397.25 L407.09,398.35 L408.28,399.44 L409.47,400.52 L410.66,401.59 L411.85,402.65 L413.04,403.70 L414.23,404.74 L415.42,405.76 L416.61,406.77 L417.80,407.76" fill="none" stroke="#e83a3f" stroke-width="0.85"/>
<circle cx="311.9" cy="364.1" r="1.25" fill="none" stroke="#e83a3f" stroke-width="0.9"/>
<circle cx="311.9" cy="350.66" r="1.25" fill="none" stroke="#e83a3f" stroke-width="0.9"/>
<circle cx="311.9" cy="349.32" r="1.25" fill="none" stroke="#e83a3f" stroke-width="0.9"/>
<circle cx="311.9" cy="347.08" r="1.25" fill="none" stroke="#e83a3f" stroke-width="0.9"/>
<circle cx="311.9" cy="345.74" r="1.25" fill="none" stroke="#e83a3f" stroke-width="0.9"/>
<circle cx="347" cy="367.24" r="1.25" fill="none" stroke="#e83a3f" stroke-width="0.9"/>
<circle cx="347" cy="365" r="1.25" fill="none" stroke="#e83a3f" stroke-width="0.9"/>
<circle cx="347" cy="362.76" r="1.25" fill="none" stroke="#e83a3f" stroke-width="0.9"/>
<circle cx="347" cy="361.86" r="1.25" fill="none" stroke="#e83a3f" stroke-width="0.9"/>
<circle cx="347" cy="360.52" r="1.25" fill="none" stroke="#e83a3f" stroke-width="0.9"/>
<circle cx="363.89" cy="368.14" r="1.25" fill="none" stroke="#e83a3f" stroke-width="0.9"/>
<circle cx="363.89" cy="366.34" r="1.25" fill="none" stroke="#e83a3f" stroke-width="0.9"/>
<circle cx="363.89" cy="365" r="1.25" fill="none" stroke="#e83a3f" stroke-width="0.9"/>
<circle cx="363.89" cy="363.66" r="1.25" fill="none" stroke="#e83a3f" stroke-width="0.9"/>
<circle cx="363.89" cy="362.31" r="1.25" fill="none" stroke="#e83a3f" stroke-width="0.9"/>
<circle cx="382.4" cy="376.65" r="1.25" fill="none" stroke="#e83a3f" stroke-width="0.9"/>
<circle cx="382.4" cy="375.75" r="1.25" fill="none" stroke="#e83a3f" stroke-width="0.9"/>
<circle cx="382.4" cy="374.86" r="1.25" fill="none" stroke="#e83a3f" stroke-width="0.9"/>
<circle cx="399.29" cy="395.02" r="1.25" fill="none" stroke="#e83a3f" stroke-width="0.9"/>
<circle cx="399.29" cy="393.22" r="1.25" fill="none" stroke="#e83a3f" stroke-width="0.9"/>
<circle cx="399.29" cy="391.88" r="1.25" fill="none" stroke="#e83a3f" stroke-width="0.9"/>
<circle cx="399.29" cy="390.54" r="1.25" fill="none" stroke="#e83a3f" stroke-width="0.9"/>
<circle cx="417.8" cy="410.25" r="1.25" fill="none" stroke="#e83a3f" stroke-width="0.9"/>
<circle cx="417.8" cy="408.46" r="1.25" fill="none" stroke="#e83a3f" stroke-width="0.9"/>
<circle cx="417.8" cy="407.11" r="1.25" fill="none" stroke="#e83a3f" stroke-width="0.9"/>
<circle cx="417.8" cy="405.77" r="1.25" fill="none" stroke="#e83a3f" stroke-width="0.9"/>
<circle cx="311.9" cy="350.66" r="1.25" fill="none" stroke="#3b62c4" stroke-width="0.9"/>
<circle cx="311.9" cy="348.87" r="1.25" fill="none" stroke="#3b62c4" stroke-width="0.9"/>
<circle cx="311.9" cy="347.08" r="1.25" fill="none" stroke="#3b62c4" stroke-width="0.9"/>
<circle cx="311.9" cy="344.84" r="1.25" fill="none" stroke="#3b62c4" stroke-width="0.9"/>
<circle cx="311.9" cy="343.5" r="1.25" fill="none" stroke="#3b62c4" stroke-width="0.9"/>
<circle cx="311.9" cy="342.6" r="1.25" fill="none" stroke="#3b62c4" stroke-width="0.9"/>
<circle cx="347" cy="342.6" r="1.25" fill="none" stroke="#3b62c4" stroke-width="0.9"/>
<circle cx="347" cy="341.7" r="1.25" fill="none" stroke="#3b62c4" stroke-width="0.9"/>
<circle cx="347" cy="340.36" r="1.25" fill="none" stroke="#3b62c4" stroke-width="0.9"/>
<circle cx="347" cy="339.46" r="1.25" fill="none" stroke="#3b62c4" stroke-width="0.9"/>
<circle cx="347" cy="338.57" r="1.25" fill="none" stroke="#3b62c4" stroke-width="0.9"/>
<circle cx="363.89" cy="347.08" r="1.25" fill="none" stroke="#3b62c4" stroke-width="0.9"/>
<circle cx="363.89" cy="342.6" r="1.25" fill="none" stroke="#3b62c4" stroke-width="0.9"/>
<circle cx="363.89" cy="341.26" r="1.25" fill="none" stroke="#3b62c4" stroke-width="0.9"/>
<circle cx="363.89" cy="340.36" r="1.25" fill="none" stroke="#3b62c4" stroke-width="0.9"/>
<circle cx="363.89" cy="339.46" r="1.25" fill="none" stroke="#3b62c4" stroke-width="0.9"/>
<circle cx="382.4" cy="347.98" r="1.25" fill="none" stroke="#3b62c4" stroke-width="0.9"/>
<circle cx="382.4" cy="347.08" r="1.25" fill="none" stroke="#3b62c4" stroke-width="0.9"/>
<circle cx="382.4" cy="346.18" r="1.25" fill="none" stroke="#3b62c4" stroke-width="0.9"/>
<circle cx="382.4" cy="345.29" r="1.25" fill="none" stroke="#3b62c4" stroke-width="0.9"/>
<circle cx="399.29" cy="358.73" r="1.25" fill="none" stroke="#3b62c4" stroke-width="0.9"/>
<circle cx="399.29" cy="356.04" r="1.25" fill="none" stroke="#3b62c4" stroke-width="0.9"/>
<circle cx="399.29" cy="354.25" r="1.25" fill="none" stroke="#3b62c4" stroke-width="0.9"/>
<circle cx="399.29" cy="352.9" r="1.25" fill="none" stroke="#3b62c4" stroke-width="0.9"/>
<circle cx="399.29" cy="351.56" r="1.25" fill="none" stroke="#3b62c4" stroke-width="0.9"/>
<circle cx="417.8" cy="381.58" r="1.25" fill="none" stroke="#3b62c4" stroke-width="0.9"/>
<circle cx="417.8" cy="380.68" r="1.25" fill="none" stroke="#3b62c4" stroke-width="0.9"/>
<circle cx="417.8" cy="379.78" r="1.25" fill="none" stroke="#3b62c4" stroke-width="0.9"/>
<polygon points="316.55,355.5 318.95,355.5 332.45,340.5 330.05,340.5" fill="#fff"/>
<line x1="316.35" y1="355.5" x2="329.85" y2="340.5" stroke="#231f20" stroke-width="0.95"/>
<line x1="319.15" y1="355.5" x2="332.65" y2="340.5" stroke="#231f20" stroke-width="0.95"/>
<line x1="300" y1="319.5" x2="300" y2="436.2" stroke="#231f20" stroke-width="1.5" />
<line x1="295.5" y1="432.4" x2="432.7" y2="432.4" stroke="#231f20" stroke-width="1.7" />
<line x1="295.5" y1="320.2" x2="299.7" y2="320.2" stroke="#231f20" stroke-width="1.3" />
<text x="290.7" y="322.72" font-size="7" text-anchor="end" font-weight="normal" fill="#231f20" stroke="#231f20" stroke-width="0.16" >2.5</text>
<line x1="295.5" y1="342.6" x2="299.7" y2="342.6" stroke="#231f20" stroke-width="1.3" />
<text x="290.7" y="345.12" font-size="7" text-anchor="end" font-weight="normal" fill="#231f20" stroke="#231f20" stroke-width="0.16" >2.0</text>
<line x1="295.5" y1="365" x2="299.7" y2="365" stroke="#231f20" stroke-width="1.3" />
<text x="290.7" y="367.52" font-size="7" text-anchor="end" font-weight="normal" fill="#231f20" stroke="#231f20" stroke-width="0.16" >1.5</text>
<line x1="295.5" y1="387.4" x2="299.7" y2="387.4" stroke="#231f20" stroke-width="1.3" />
<text x="290.7" y="389.92" font-size="7" text-anchor="end" font-weight="normal" fill="#231f20" stroke="#231f20" stroke-width="0.16" >1.0</text>
<line x1="295.5" y1="409.8" x2="299.7" y2="409.8" stroke="#231f20" stroke-width="1.3" />
<text x="290.7" y="412.32" font-size="7" text-anchor="end" font-weight="normal" fill="#231f20" stroke="#231f20" stroke-width="0.16" >0.5</text>
<line x1="295.5" y1="432.2" x2="299.7" y2="432.2" stroke="#231f20" stroke-width="1.3" />
<text x="290.7" y="434.72" font-size="7" text-anchor="end" font-weight="normal" fill="#231f20" stroke="#231f20" stroke-width="0.16" >0</text>
<line x1="311.9" y1="432.2" x2="311.9" y2="436.2" stroke="#231f20" stroke-width="1.3" />
<text x="311.9" y="446.25" font-size="6.8" text-anchor="middle" font-weight="normal" fill="#231f20" stroke="#231f20" stroke-width="0.16" >0</text>
<line x1="347" y1="432.2" x2="347" y2="436.2" stroke="#231f20" stroke-width="1.3" />
<text x="347" y="446.25" font-size="6.8" text-anchor="middle" font-weight="normal" fill="#231f20" stroke="#231f20" stroke-width="0.16" >0.1</text>
<line x1="382.4" y1="432.2" x2="382.4" y2="436.2" stroke="#231f20" stroke-width="1.3" />
<text x="382.4" y="446.25" font-size="6.8" text-anchor="middle" font-weight="normal" fill="#231f20" stroke="#231f20" stroke-width="0.16" >1</text>
<line x1="417.8" y1="432.2" x2="417.8" y2="436.2" stroke="#231f20" stroke-width="1.3" />
<text x="417.8" y="446.25" font-size="6.8" text-anchor="middle" font-weight="normal" fill="#231f20" stroke="#231f20" stroke-width="0.16" >10</text>
<polygon points="317.5,438.2 319.9,438.2 332.5,424.2 330.1,424.2" fill="#fff"/>
<line x1="317.3" y1="438.2" x2="329.9" y2="424.2" stroke="#231f20" stroke-width="0.95"/>
<line x1="320.1" y1="438.2" x2="332.7" y2="424.2" stroke="#231f20" stroke-width="0.95"/>
<text x="268" y="313.25" font-size="6.8" text-anchor="start" font-weight="normal" fill="#231f20" stroke="#231f20" stroke-width="0.16" >(x10<tspan font-size="4.6" dy="-2.6">7</tspan><tspan dy="2.6">)</tspan></text>
<text x="0" y="2.92" font-size="8.1" text-anchor="middle" font-weight="normal" fill="#231f20" stroke="#231f20" stroke-width="0.16" transform="translate(269.2,372) rotate(-90)">Luminescence</text>
<text x="365.4" y="456.54" font-size="7.9" text-anchor="middle" font-weight="normal" fill="#231f20" stroke="#231f20" stroke-width="0.16" >SIM1 (nM)</text>
<text x="347" y="335.4" font-size="9.4" text-anchor="middle" font-weight="bold" fill="#231f20" >**</text>
<text x="363.89" y="335.4" font-size="9.4" text-anchor="middle" font-weight="bold" fill="#231f20" >**</text>
<text x="382.4" y="335.4" font-size="9.4" text-anchor="middle" font-weight="bold" fill="#231f20" >**</text>
<text x="399.29" y="335.4" font-size="9.4" text-anchor="middle" font-weight="bold" fill="#231f20" >**</text>
<text x="417.8" y="335.4" font-size="9.4" text-anchor="middle" font-weight="bold" fill="#231f20" >**</text>
<line x1="425.7" y1="339.5" x2="434.5" y2="339.5" stroke="#3b62c4" stroke-width="0.8" />
<circle cx="430.1" cy="339.5" r="1" fill="#3b62c4"/>
<line x1="425.7" y1="350.4" x2="434.5" y2="350.4" stroke="#e83a3f" stroke-width="0.8" />
<circle cx="430.1" cy="350.4" r="1" fill="#e83a3f"/>
<text x="436.2" y="342.45" font-size="8.2" text-anchor="start" font-weight="normal" fill="#231f20" stroke="#231f20" stroke-width="0.16" >GSK(-)</text>
<text x="436.2" y="353.35" font-size="8.2" text-anchor="start" font-weight="normal" fill="#231f20" stroke="#231f20" stroke-width="0.16" >GSK(+)</text>
<text x="485" y="287.2" font-size="16" text-anchor="start" font-weight="bold" fill="#000" >g</text>
<path d="M538.80,329.98 L540.12,329.99 L541.44,330.01 L542.76,330.02 L544.08,330.03 L545.40,330.05 L546.71,330.07 L548.03,330.09 L549.35,330.11 L550.67,330.13 L551.99,330.16 L553.31,330.19 L554.63,330.22 L555.95,330.25 L557.27,330.29 L558.59,330.33 L559.91,330.37 L561.22,330.42 L562.54,330.48 L563.86,330.54 L565.18,330.60 L566.50,330.67 L567.82,330.75 L569.14,330.84 L570.46,330.93 L571.78,331.03 L573.10,331.14 L574.42,331.27 L575.73,331.40 L577.05,331.55 L578.37,331.71 L579.69,331.88 L581.01,332.07 L582.33,332.28 L583.65,332.51 L584.97,332.76 L586.29,333.04 L587.61,333.34 L588.93,333.66 L590.24,334.01 L591.56,334.40 L592.88,334.82 L594.20,335.27 L595.52,335.77 L596.84,336.31 L598.16,336.89 L599.48,337.52 L600.80,338.20 L602.12,338.93 L603.44,339.73 L604.76,340.58 L606.07,341.50 L607.39,342.48 L608.71,343.54 L610.03,344.66 L611.35,345.87 L612.67,347.14 L613.99,348.50 L615.31,349.93 L616.63,351.45 L617.95,353.04 L619.27,354.71 L620.58,356.46 L621.90,358.28 L623.22,360.17 L624.54,362.12 L625.86,364.14 L627.18,366.20 L628.50,368.32 L629.82,370.47 L631.14,372.65 L632.46,374.85 L633.78,377.07 L635.09,379.28 L636.41,381.49 L637.73,383.68 L639.05,385.84 L640.37,387.97 L641.69,390.05 L643.01,392.09 L644.33,394.07 L645.65,395.98 L646.97,397.83 L648.29,399.60 L649.60,401.30 L650.92,402.92 L652.24,404.46 L653.56,405.93 L654.88,407.31 L656.20,408.62" fill="none" stroke="#3b62c4" stroke-width="0.85"/>
<path d="M538.80,333.46 L540.12,333.47 L541.44,333.49 L542.76,333.51 L544.08,333.54 L545.40,333.56 L546.71,333.59 L548.03,333.63 L549.35,333.66 L550.67,333.71 L551.99,333.76 L553.31,333.81 L554.63,333.87 L555.95,333.94 L557.27,334.02 L558.59,334.11 L559.91,334.20 L561.22,334.31 L562.54,334.44 L563.86,334.58 L565.18,334.74 L566.50,334.91 L567.82,335.11 L569.14,335.34 L570.46,335.59 L571.78,335.87 L573.10,336.18 L574.42,336.53 L575.73,336.92 L577.05,337.36 L578.37,337.85 L579.69,338.39 L581.01,338.99 L582.33,339.65 L583.65,340.39 L584.97,341.20 L586.29,342.10 L587.61,343.08 L588.93,344.15 L590.24,345.32 L591.56,346.58 L592.88,347.95 L594.20,349.43 L595.52,351.01 L596.84,352.69 L598.16,354.48 L599.48,356.36 L600.80,358.33 L602.12,360.39 L603.44,362.51 L604.76,364.69 L606.07,366.91 L607.39,369.16 L608.71,371.42 L610.03,373.68 L611.35,375.92 L612.67,378.12 L613.99,380.27 L615.31,382.35 L616.63,384.36 L617.95,386.28 L619.27,388.11 L620.58,389.84 L621.90,391.46 L623.22,392.98 L624.54,394.40 L625.86,395.71 L627.18,396.92 L628.50,398.03 L629.82,399.05 L631.14,399.98 L632.46,400.82 L633.78,401.59 L635.09,402.29 L636.41,402.92 L637.73,403.48 L639.05,403.99 L640.37,404.45 L641.69,404.86 L643.01,405.23 L644.33,405.56 L645.65,405.85 L646.97,406.11 L648.29,406.35 L649.60,406.56 L650.92,406.74 L652.24,406.91 L653.56,407.06 L654.88,407.19 L656.20,407.30" fill="none" stroke="#e83a3f" stroke-width="0.85"/>
<rect x="537.85" y="341.9" width="1.9" height="1.9" fill="#e83a3f"/>
<rect x="537.85" y="334.69" width="1.9" height="1.9" fill="#e83a3f"/>
<rect x="537.85" y="333.25" width="1.9" height="1.9" fill="#e83a3f"/>
<rect x="537.85" y="331.8" width="1.9" height="1.9" fill="#e83a3f"/>
<rect x="598.38" y="359.21" width="1.9" height="1.9" fill="#e83a3f"/>
<rect x="598.38" y="356.32" width="1.9" height="1.9" fill="#e83a3f"/>
<rect x="598.38" y="353.44" width="1.9" height="1.9" fill="#e83a3f"/>
<rect x="598.38" y="349.11" width="1.9" height="1.9" fill="#e83a3f"/>
<rect x="598.38" y="346.23" width="1.9" height="1.9" fill="#e83a3f"/>
<rect x="609.06" y="376.52" width="1.9" height="1.9" fill="#e83a3f"/>
<rect x="609.06" y="373.63" width="1.9" height="1.9" fill="#e83a3f"/>
<rect x="609.06" y="370.75" width="1.9" height="1.9" fill="#e83a3f"/>
<rect x="609.06" y="366.42" width="1.9" height="1.9" fill="#e83a3f"/>
<rect x="609.06" y="363.54" width="1.9" height="1.9" fill="#e83a3f"/>
<rect x="619.75" y="396.71" width="1.9" height="1.9" fill="#e83a3f"/>
<rect x="619.75" y="393.83" width="1.9" height="1.9" fill="#e83a3f"/>
<rect x="619.75" y="390.94" width="1.9" height="1.9" fill="#e83a3f"/>
<rect x="619.75" y="388.06" width="1.9" height="1.9" fill="#e83a3f"/>
<rect x="633.88" y="403.93" width="1.9" height="1.9" fill="#e83a3f"/>
<rect x="633.88" y="402.49" width="1.9" height="1.9" fill="#e83a3f"/>
<rect x="633.88" y="399.6" width="1.9" height="1.9" fill="#e83a3f"/>
<rect x="633.88" y="398.16" width="1.9" height="1.9" fill="#e83a3f"/>
<rect x="644.56" y="405.37" width="1.9" height="1.9" fill="#e83a3f"/>
<rect x="644.56" y="402.49" width="1.9" height="1.9" fill="#e83a3f"/>
<rect x="644.56" y="399.6" width="1.9" height="1.9" fill="#e83a3f"/>
<rect x="644.56" y="396.71" width="1.9" height="1.9" fill="#e83a3f"/>
<rect x="655.25" y="412.58" width="1.9" height="1.9" fill="#e83a3f"/>
<rect x="655.25" y="409.7" width="1.9" height="1.9" fill="#e83a3f"/>
<rect x="655.25" y="406.81" width="1.9" height="1.9" fill="#e83a3f"/>
<rect x="655.25" y="403.93" width="1.9" height="1.9" fill="#e83a3f"/>
<circle cx="538.8" cy="337.08" r="1.05" fill="#3b62c4"/>
<circle cx="538.8" cy="335.64" r="1.05" fill="#3b62c4"/>
<circle cx="538.8" cy="334.19" r="1.05" fill="#3b62c4"/>
<circle cx="538.8" cy="332.75" r="1.05" fill="#3b62c4"/>
<circle cx="538.8" cy="331.31" r="1.05" fill="#3b62c4"/>
<circle cx="538.8" cy="329.87" r="1.05" fill="#3b62c4"/>
<circle cx="599.33" cy="337.08" r="1.05" fill="#3b62c4"/>
<circle cx="599.33" cy="335.64" r="1.05" fill="#3b62c4"/>
<circle cx="599.33" cy="334.19" r="1.05" fill="#3b62c4"/>
<circle cx="599.33" cy="332.75" r="1.05" fill="#3b62c4"/>
<circle cx="599.33" cy="331.89" r="1.05" fill="#3b62c4"/>
<circle cx="610.01" cy="345.74" r="1.05" fill="#3b62c4"/>
<circle cx="610.01" cy="344.29" r="1.05" fill="#3b62c4"/>
<circle cx="610.01" cy="342.85" r="1.05" fill="#3b62c4"/>
<circle cx="610.01" cy="341.41" r="1.05" fill="#3b62c4"/>
<circle cx="610.01" cy="339.96" r="1.05" fill="#3b62c4"/>
<circle cx="610.01" cy="335.64" r="1.05" fill="#3b62c4"/>
<circle cx="610.01" cy="331.89" r="1.05" fill="#3b62c4"/>
<circle cx="620.7" cy="363.05" r="1.05" fill="#3b62c4"/>
<circle cx="620.7" cy="360.16" r="1.05" fill="#3b62c4"/>
<circle cx="620.7" cy="357.27" r="1.05" fill="#3b62c4"/>
<circle cx="620.7" cy="355.83" r="1.05" fill="#3b62c4"/>
<circle cx="620.7" cy="352.95" r="1.05" fill="#3b62c4"/>
<circle cx="634.83" cy="386.12" r="1.05" fill="#3b62c4"/>
<circle cx="634.83" cy="383.24" r="1.05" fill="#3b62c4"/>
<circle cx="634.83" cy="380.36" r="1.05" fill="#3b62c4"/>
<circle cx="634.83" cy="378.91" r="1.05" fill="#3b62c4"/>
<circle cx="645.51" cy="400.55" r="1.05" fill="#3b62c4"/>
<circle cx="645.51" cy="397.66" r="1.05" fill="#3b62c4"/>
<circle cx="645.51" cy="394.78" r="1.05" fill="#3b62c4"/>
<circle cx="645.51" cy="393.34" r="1.05" fill="#3b62c4"/>
<circle cx="656.2" cy="422.19" r="1.05" fill="#3b62c4"/>
<circle cx="656.2" cy="414.97" r="1.05" fill="#3b62c4"/>
<circle cx="656.2" cy="412.09" r="1.05" fill="#3b62c4"/>
<circle cx="656.2" cy="410.65" r="1.05" fill="#3b62c4"/>
<polygon points="556.5,340.5 558.9,340.5 571.5,326.5 569.1,326.5" fill="#fff"/>
<line x1="556.3" y1="340.5" x2="568.9" y2="326.5" stroke="#231f20" stroke-width="0.95"/>
<line x1="559.1" y1="340.5" x2="571.7" y2="326.5" stroke="#231f20" stroke-width="0.95"/>
<line x1="517.8" y1="313.3" x2="517.8" y2="433.4" stroke="#231f20" stroke-width="1.5" />
<line x1="513.5" y1="429.6" x2="669.3" y2="429.6" stroke="#231f20" stroke-width="1.7" />
<line x1="513.3" y1="314" x2="517.5" y2="314" stroke="#231f20" stroke-width="1.3" />
<text x="512.2" y="316.56" font-size="7.1" text-anchor="end" font-weight="normal" fill="#231f20" stroke="#231f20" stroke-width="0.16" >4.0</text>
<line x1="513.3" y1="342.85" x2="517.5" y2="342.85" stroke="#231f20" stroke-width="1.3" />
<text x="512.2" y="345.41" font-size="7.1" text-anchor="end" font-weight="normal" fill="#231f20" stroke="#231f20" stroke-width="0.16" >3.0</text>
<line x1="513.3" y1="371.7" x2="517.5" y2="371.7" stroke="#231f20" stroke-width="1.3" />
<text x="512.2" y="374.26" font-size="7.1" text-anchor="end" font-weight="normal" fill="#231f20" stroke="#231f20" stroke-width="0.16" >2.0</text>
<line x1="513.3" y1="400.55" x2="517.5" y2="400.55" stroke="#231f20" stroke-width="1.3" />
<text x="512.2" y="403.11" font-size="7.1" text-anchor="end" font-weight="normal" fill="#231f20" stroke="#231f20" stroke-width="0.16" >1.0</text>
<line x1="513.3" y1="429.4" x2="517.5" y2="429.4" stroke="#231f20" stroke-width="1.3" />
<text x="512.2" y="431.96" font-size="7.1" text-anchor="end" font-weight="normal" fill="#231f20" stroke="#231f20" stroke-width="0.16" >0.0</text>
<line x1="538.8" y1="429.4" x2="538.8" y2="433.4" stroke="#231f20" stroke-width="1.3" />
<text x="538.8" y="440.65" font-size="6.8" text-anchor="middle" font-weight="normal" fill="#231f20" stroke="#231f20" stroke-width="0.16" >0</text>
<line x1="585.2" y1="429.4" x2="585.2" y2="433.4" stroke="#231f20" stroke-width="1.3" />
<text x="585.2" y="440.65" font-size="6.8" text-anchor="middle" font-weight="normal" fill="#231f20" stroke="#231f20" stroke-width="0.16" >10</text>
<line x1="620.7" y1="429.4" x2="620.7" y2="433.4" stroke="#231f20" stroke-width="1.3" />
<text x="620.7" y="440.65" font-size="6.8" text-anchor="middle" font-weight="normal" fill="#231f20" stroke="#231f20" stroke-width="0.16" >100</text>
<line x1="656.2" y1="429.4" x2="656.2" y2="433.4" stroke="#231f20" stroke-width="1.3" />
<text x="656.2" y="440.65" font-size="6.8" text-anchor="middle" font-weight="normal" fill="#231f20" stroke="#231f20" stroke-width="0.16" >1000</text>
<polygon points="557,435.4 559.4,435.4 572,421.4 569.6,421.4" fill="#fff"/>
<line x1="556.8" y1="435.4" x2="569.4" y2="421.4" stroke="#231f20" stroke-width="0.95"/>
<line x1="559.6" y1="435.4" x2="572.2" y2="421.4" stroke="#231f20" stroke-width="0.95"/>
<text x="489.6" y="308.05" font-size="6.8" text-anchor="start" font-weight="normal" fill="#231f20" stroke="#231f20" stroke-width="0.16" >(x10<tspan font-size="4.6" dy="-2.6">5</tspan><tspan dy="2.6">)</tspan></text>
<text x="0" y="2.92" font-size="8.1" text-anchor="middle" font-weight="normal" fill="#231f20" stroke="#231f20" stroke-width="0.16" transform="translate(492.8,378.6) rotate(-90)">Luminescence</text>
<text x="594.5" y="454.34" font-size="7.9" text-anchor="middle" font-weight="normal" fill="#231f20" stroke="#231f20" stroke-width="0.16" >ThalSNS (nM)</text>
<text x="599.9" y="328.6" font-size="9.4" text-anchor="middle" font-weight="bold" fill="#231f20" >**</text>
<text x="611.2" y="328.6" font-size="9.4" text-anchor="middle" font-weight="bold" fill="#231f20" >**</text>
<text x="621.4" y="328.6" font-size="9.4" text-anchor="middle" font-weight="bold" fill="#231f20" >**</text>
<text x="635" y="328.6" font-size="9.4" text-anchor="middle" font-weight="bold" fill="#231f20" >**</text>
<text x="645.8" y="328.6" font-size="9.4" text-anchor="middle" font-weight="bold" fill="#231f20" >*</text>
<line x1="639.5" y1="340.8" x2="652.5" y2="340.8" stroke="#3b62c4" stroke-width="0.8" />
<circle cx="646" cy="340.8" r="1" fill="#3b62c4"/>
<line x1="639.5" y1="354.2" x2="652.5" y2="354.2" stroke="#e83a3f" stroke-width="0.8" />
<circle cx="646" cy="354.2" r="1" fill="#e83a3f"/>
<text x="652.6" y="343.93" font-size="8.7" text-anchor="start" font-weight="normal" fill="#231f20" stroke="#231f20" stroke-width="0.16" >PDD (-)</text>
<text x="652.6" y="357.33" font-size="8.7" text-anchor="start" font-weight="normal" fill="#231f20" stroke="#231f20" stroke-width="0.16" >PDD (+)</text>
<text x="480.6" y="15" font-size="16" text-anchor="start" font-weight="bold" fill="#000" >f</text>
<rect x="537.4" y="19.2" width="115.4" height="45.4" fill="url(#cdkbg)"/>
<rect x="541.4" y="40.9" width="13.2" height="4.8" rx="1.6" fill="rgb(0,0,0)" opacity="1" filter="url(#bx9)"/>
<rect x="559.4" y="40.9" width="13.2" height="4.8" rx="1.6" fill="rgb(0,0,0)" opacity="1" filter="url(#bx9)"/>
<rect x="577.8" y="41.3" width="13.2" height="4" rx="1.33" fill="rgb(0,0,0)" opacity="0.8" filter="url(#bx9)"/>
<rect x="596.2" y="41.3" width="13.2" height="4" rx="1.33" fill="rgb(0,0,0)" opacity="0.41" filter="url(#bx9)"/>
<rect x="615" y="41.3" width="13.2" height="4" rx="1.33" fill="rgb(0,0,0)" opacity="0.35" filter="url(#bx9)"/>
<rect x="635" y="41.3" width="13.2" height="4" rx="1.33" fill="rgb(0,0,0)" opacity="0.05" filter="url(#bx9)"/>
<rect x="537.4" y="64.6" width="115.4" height="44.9" fill="rgb(232,232,232)" />
<rect x="541" y="66.1" width="14" height="41.9" fill="url(#parfodd)" opacity="0.8" filter="url(#b15)"/>
<rect x="559" y="66.1" width="14" height="41.9" fill="url(#parf)" opacity="0.8" filter="url(#b15)"/>
<rect x="577.4" y="66.1" width="14" height="41.9" fill="url(#parfodd)" opacity="0.55" filter="url(#b15)"/>
<rect x="595.8" y="66.1" width="14" height="41.9" fill="url(#parf)" opacity="0.95" filter="url(#b15)"/>
<rect x="614.6" y="66.1" width="14" height="41.9" fill="url(#parfodd)" opacity="0.65" filter="url(#b15)"/>
<rect x="634.6" y="66.1" width="14" height="41.9" fill="url(#parf)" opacity="1" filter="url(#b15)"/>
<rect x="537.4" y="109.5" width="115.4" height="34" fill="rgb(238,238,238)" />
<rect x="541.15" y="124.2" width="13.7" height="4.6" rx="1.53" fill="rgb(0,0,0)" opacity="0.76" filter="url(#bx10)"/>
<rect x="559.15" y="124.2" width="13.7" height="4.6" rx="1.53" fill="rgb(0,0,0)" opacity="0.76" filter="url(#bx10)"/>
<rect x="577.55" y="124.2" width="13.7" height="4.6" rx="1.53" fill="rgb(0,0,0)" opacity="0.95" filter="url(#bx10)"/>
<rect x="595.95" y="124.2" width="13.7" height="4.6" rx="1.53" fill="rgb(0,0,0)" opacity="0.56" filter="url(#bx10)"/>
<rect x="614.75" y="124.2" width="13.7" height="4.6" rx="1.53" fill="rgb(0,0,0)" opacity="0.38" filter="url(#bx10)"/>
<rect x="634.75" y="124.2" width="13.7" height="4.6" rx="1.53" fill="rgb(0,0,0)" opacity="0.62" filter="url(#bx10)"/>
<rect x="537.4" y="19.2" width="115.4" height="124.3" fill="none" stroke="#3a3434" stroke-width="1.1"/>
<line x1="537.4" y1="64.6" x2="652.8" y2="64.6" stroke="#3a3434" stroke-width="1.3" />
<line x1="537.4" y1="109.5" x2="652.8" y2="109.5" stroke="#3a3434" stroke-width="1.3" />
<text x="518.9" y="20.12" font-size="7" text-anchor="start" font-weight="normal" fill="#231f20" stroke="#231f20" stroke-width="0.16" >(kDa)</text>
<text x="496" y="44.48" font-size="8" text-anchor="start" font-weight="normal" fill="#231f20" stroke="#231f20" stroke-width="0.16" >CDK9</text>
<text x="498" y="89.78" font-size="8" text-anchor="start" font-weight="normal" fill="#231f20" stroke="#231f20" stroke-width="0.16" >PAR</text>
<text x="493.6" y="129.58" font-size="8" text-anchor="start" font-weight="normal" fill="#231f20" stroke="#231f20" stroke-width="0.16" >β-Actin</text>
<text x="535.1" y="28.3" font-size="6.4" text-anchor="end" font-weight="normal" fill="#231f20" stroke="#231f20" stroke-width="0.16" >50</text>
<line x1="535.2" y1="26" x2="537.4" y2="26" stroke="#231f20" stroke-width="0.6" />
<text x="535.1" y="54.8" font-size="6.4" text-anchor="end" font-weight="normal" fill="#231f20" stroke="#231f20" stroke-width="0.16" >37</text>
<line x1="535.2" y1="52.5" x2="537.4" y2="52.5" stroke="#231f20" stroke-width="0.6" />
<text x="535.1" y="88.3" font-size="6.4" text-anchor="end" font-weight="normal" fill="#231f20" stroke="#231f20" stroke-width="0.16" >250</text>
<line x1="535.2" y1="86" x2="537.4" y2="86" stroke="#231f20" stroke-width="0.6" />
<text x="535.1" y="106.3" font-size="6.4" text-anchor="end" font-weight="normal" fill="#231f20" stroke="#231f20" stroke-width="0.16" >150</text>
<line x1="535.2" y1="104" x2="537.4" y2="104" stroke="#231f20" stroke-width="0.6" />
<text x="535.1" y="116.5" font-size="6.4" text-anchor="end" font-weight="normal" fill="#231f20" stroke="#231f20" stroke-width="0.16" >50</text>
<line x1="535.2" y1="114.2" x2="537.4" y2="114.2" stroke="#231f20" stroke-width="0.6" />
<text x="535.1" y="141.1" font-size="6.4" text-anchor="end" font-weight="normal" fill="#231f20" stroke="#231f20" stroke-width="0.16" >37</text>
<line x1="535.2" y1="138.8" x2="537.4" y2="138.8" stroke="#231f20" stroke-width="0.6" />
<text x="538.3" y="154.84" font-size="7.9" text-anchor="end" font-weight="normal" fill="#231f20" stroke="#231f20" stroke-width="0.16" >ThalSNS (h) :</text>
<text x="538.3" y="167.54" font-size="7.9" text-anchor="end" font-weight="normal" fill="#231f20" stroke="#231f20" stroke-width="0.16" >PDD (h) :</text>
<text x="547" y="154.84" font-size="7.9" text-anchor="middle" font-weight="normal" fill="#231f20" stroke="#231f20" stroke-width="0.16" >0</text>
<text x="547" y="167.54" font-size="7.9" text-anchor="middle" font-weight="normal" fill="#231f20" stroke="#231f20" stroke-width="0.16" >0</text>
<text x="566.5" y="154.84" font-size="7.9" text-anchor="middle" font-weight="normal" fill="#231f20" stroke="#231f20" stroke-width="0.16" >0</text>
<text x="566.5" y="167.54" font-size="7.9" text-anchor="middle" font-weight="normal" fill="#231f20" stroke="#231f20" stroke-width="0.16" >6</text>
<text x="584.8" y="154.84" font-size="7.9" text-anchor="middle" font-weight="normal" fill="#231f20" stroke="#231f20" stroke-width="0.16" >1</text>
<text x="584.8" y="167.54" font-size="7.9" text-anchor="middle" font-weight="normal" fill="#231f20" stroke="#231f20" stroke-width="0.16" >0</text>
<text x="604.5" y="154.84" font-size="7.9" text-anchor="middle" font-weight="normal" fill="#231f20" stroke="#231f20" stroke-width="0.16" >1</text>
<text x="604.5" y="167.54" font-size="7.9" text-anchor="middle" font-weight="normal" fill="#231f20" stroke="#231f20" stroke-width="0.16" >6</text>
<text x="624.5" y="154.84" font-size="7.9" text-anchor="middle" font-weight="normal" fill="#231f20" stroke="#231f20" stroke-width="0.16" >3</text>
<text x="624.5" y="167.54" font-size="7.9" text-anchor="middle" font-weight="normal" fill="#231f20" stroke="#231f20" stroke-width="0.16" >0</text>
<text x="642.5" y="154.84" font-size="7.9" text-anchor="middle" font-weight="normal" fill="#231f20" stroke="#231f20" stroke-width="0.16" >3</text>
<text x="642.5" y="167.54" font-size="7.9" text-anchor="middle" font-weight="normal" fill="#231f20" stroke="#231f20" stroke-width="0.16" >6</text>
<line x1="539.5" y1="182.2" x2="539.5" y2="261.9" stroke="#231f20" stroke-width="1.4" />
<line x1="539" y1="261.6" x2="642.3" y2="261.6" stroke="#231f20" stroke-width="1.6" />
<line x1="536.3" y1="261.4" x2="539.5" y2="261.4" stroke="#231f20" stroke-width="1" />
<line x1="537.3" y1="254.32" x2="539.5" y2="254.32" stroke="#231f20" stroke-width="1" />
<line x1="536.3" y1="247.24" x2="539.5" y2="247.24" stroke="#231f20" stroke-width="1" />
<line x1="537.3" y1="240.16" x2="539.5" y2="240.16" stroke="#231f20" stroke-width="1" />
<line x1="536.3" y1="233.08" x2="539.5" y2="233.08" stroke="#231f20" stroke-width="1" />
<line x1="537.3" y1="226" x2="539.5" y2="226" stroke="#231f20" stroke-width="1" />
<line x1="536.3" y1="218.92" x2="539.5" y2="218.92" stroke="#231f20" stroke-width="1" />
<line x1="537.3" y1="211.84" x2="539.5" y2="211.84" stroke="#231f20" stroke-width="1" />
<line x1="536.3" y1="204.76" x2="539.5" y2="204.76" stroke="#231f20" stroke-width="1" />
<line x1="537.3" y1="197.68" x2="539.5" y2="197.68" stroke="#231f20" stroke-width="1" />
<line x1="536.3" y1="190.6" x2="539.5" y2="190.6" stroke="#231f20" stroke-width="1" />
<line x1="537.3" y1="183.52" x2="539.5" y2="183.52" stroke="#231f20" stroke-width="1" />
<text x="535.8" y="192.98" font-size="6.6" text-anchor="end" font-weight="normal" fill="#231f20" stroke="#231f20" stroke-width="0.16" >1.0</text>
<text x="535.8" y="207.14" font-size="6.6" text-anchor="end" font-weight="normal" fill="#231f20" stroke="#231f20" stroke-width="0.16" >0.8</text>
<text x="535.8" y="221.3" font-size="6.6" text-anchor="end" font-weight="normal" fill="#231f20" stroke="#231f20" stroke-width="0.16" >0.6</text>
<text x="535.8" y="235.46" font-size="6.6" text-anchor="end" font-weight="normal" fill="#231f20" stroke="#231f20" stroke-width="0.16" >0.4</text>
<text x="535.8" y="249.62" font-size="6.6" text-anchor="end" font-weight="normal" fill="#231f20" stroke="#231f20" stroke-width="0.16" >0.2</text>
<text x="535.8" y="263.78" font-size="6.6" text-anchor="end" font-weight="normal" fill="#231f20" stroke="#231f20" stroke-width="0.16" >0.0</text>
<line x1="539.5" y1="261.4" x2="539.5" y2="264.6" stroke="#231f20" stroke-width="1.2" />
<text x="539.5" y="271.05" font-size="6.8" text-anchor="middle" font-weight="normal" fill="#231f20" stroke="#231f20" stroke-width="0.16" >0</text>
<line x1="589.9" y1="261.4" x2="589.9" y2="264.6" stroke="#231f20" stroke-width="1.2" />
<text x="589.9" y="271.05" font-size="6.8" text-anchor="middle" font-weight="normal" fill="#231f20" stroke="#231f20" stroke-width="0.16" >1</text>
<line x1="640.3" y1="261.4" x2="640.3" y2="264.6" stroke="#231f20" stroke-width="1.2" />
<text x="640.3" y="271.05" font-size="6.8" text-anchor="middle" font-weight="normal" fill="#231f20" stroke="#231f20" stroke-width="0.16" >2</text>
<path d="M539.50,190.60 L541.21,192.11 L542.92,193.59 L544.63,195.04 L546.33,196.45 L548.04,197.84 L549.75,199.20 L551.46,200.52 L553.17,201.82 L554.88,203.10 L556.58,204.34 L558.29,205.56 L560.00,206.75 L561.71,207.92 L563.42,209.06 L565.13,210.18 L566.84,211.27 L568.54,212.34 L570.25,213.39 L571.96,214.41 L573.67,215.41 L575.38,216.40 L577.09,217.36 L578.79,218.30 L580.50,219.22 L582.21,220.12 L583.92,221.00 L585.63,221.86 L587.34,222.70 L589.05,223.53 L590.75,224.34 L592.46,225.13 L594.17,225.90 L595.88,226.66 L597.59,227.40 L599.30,228.13 L601.01,228.84 L602.71,229.53 L604.42,230.21 L606.13,230.88 L607.84,231.53 L609.55,232.17 L611.26,232.79 L612.96,233.40 L614.67,234.00 L616.38,234.59 L618.09,235.16 L619.80,235.72 L621.51,236.27 L623.22,236.80 L624.92,237.33 L626.63,237.84 L628.34,238.34 L630.05,238.84 L631.76,239.32 L633.47,239.79 L635.17,240.25 L636.88,240.70 L638.59,241.14 L640.30,241.58" fill="none" stroke="#3b62c4" stroke-width="0.9"/>
<path d="M539.50,194.14 L541.21,197.31 L542.92,200.32 L544.63,203.19 L546.33,205.92 L548.04,208.51 L549.75,210.98 L551.46,213.33 L553.17,215.56 L554.88,217.68 L556.58,219.70 L558.29,221.62 L560.00,223.44 L561.71,225.18 L563.42,226.83 L565.13,228.40 L566.84,229.89 L568.54,231.31 L570.25,232.66 L571.96,233.95 L573.67,235.17 L575.38,236.33 L577.09,237.44 L578.79,238.49 L580.50,239.49 L582.21,240.44 L583.92,241.34 L585.63,242.20 L587.34,243.02 L589.05,243.80 L590.75,244.54 L592.46,245.24 L594.17,245.91 L595.88,246.55 L597.59,247.16 L599.30,247.73 L601.01,248.28 L602.71,248.80 L604.42,249.29 L606.13,249.77 L607.84,250.21 L609.55,250.64 L611.26,251.05 L612.96,251.43 L614.67,251.80 L616.38,252.15 L618.09,252.48 L619.80,252.79 L621.51,253.09 L623.22,253.38 L624.92,253.65 L626.63,253.91 L628.34,254.15 L630.05,254.39 L631.76,254.61 L633.47,254.82 L635.17,255.02 L636.88,255.21 L638.59,255.39 L640.30,255.57" fill="none" stroke="#e83a3f" stroke-width="0.9"/>
<circle cx="539.5" cy="190.6" r="1" fill="#3b62c4"/>
<circle cx="589.9" cy="225.29" r="1" fill="#3b62c4"/>
<circle cx="589.9" cy="217.5" r="1" fill="#3b62c4"/>
<circle cx="640.3" cy="245.12" r="1" fill="#3b62c4"/>
<circle cx="640.3" cy="238.74" r="1" fill="#3b62c4"/>
<rect x="538.5" y="193.14" width="2" height="2" fill="#e83a3f"/>
<rect x="538.5" y="194.56" width="2" height="2" fill="#e83a3f"/>
<rect x="588.9" y="245.53" width="2" height="2" fill="#e83a3f"/>
<rect x="588.9" y="242.7" width="2" height="2" fill="#e83a3f"/>
<rect x="639.3" y="256.86" width="2" height="2" fill="#e83a3f"/>
<rect x="639.3" y="255.44" width="2" height="2" fill="#e83a3f"/>
<text x="0" y="2.88" font-size="8" text-anchor="middle" font-weight="normal" fill="#231f20" stroke="#231f20" stroke-width="0.16" transform="translate(516.3,222.4) rotate(-90)">CDK9 signal (fold)</text>
<text x="590" y="279.84" font-size="7.9" text-anchor="middle" font-weight="normal" fill="#231f20" stroke="#231f20" stroke-width="0.16" >ThalSNS (h)</text>
<text x="590" y="190.38" font-size="9.4" text-anchor="middle" font-weight="normal" fill="#231f20" stroke="#231f20" stroke-width="0.16" >CDK9</text>
<line x1="623" y1="199.4" x2="636" y2="199.4" stroke="#3b62c4" stroke-width="0.9" />
<circle cx="629.5" cy="199.4" r="1.4" fill="#3b62c4"/>
<line x1="623" y1="212.6" x2="636" y2="212.6" stroke="#e83a3f" stroke-width="0.9" />
<polygon points="629.5,210.8 631.5,214 627.5,214" fill="#e83a3f"/>
<text x="637.4" y="202.53" font-size="8.7" text-anchor="start" font-weight="normal" fill="#231f20" stroke="#231f20" stroke-width="0.16" >PDD (-)</text>
<text x="637.4" y="215.73" font-size="8.7" text-anchor="start" font-weight="normal" fill="#231f20" stroke="#231f20" stroke-width="0.16" >PDD (+)</text>
<text x="8" y="490.2" font-size="16" text-anchor="start" font-weight="bold" fill="#000" >h</text>
<rect x="73.6" y="511.3" width="141.9" height="28.7" fill="url(#hbg)"/>
<rect x="78.05" y="522.5" width="10.7" height="5" rx="1.67" fill="rgb(0,0,0)" opacity="1" filter="url(#bx9)"/>
<rect x="94.19" y="522.9" width="9.7" height="4.2" rx="1.4" fill="rgb(0,0,0)" opacity="0.9" filter="url(#bx9)"/>
<rect x="109.83" y="522.9" width="9.7" height="4.2" rx="1.4" fill="rgb(0,0,0)" opacity="0.9" filter="url(#bx9)"/>
<rect x="124.97" y="522.5" width="10.7" height="5" rx="1.67" fill="rgb(0,0,0)" opacity="1" filter="url(#bx9)"/>
<rect x="141.11" y="522.9" width="9.7" height="4.2" rx="1.4" fill="rgb(0,0,0)" opacity="0.74" filter="url(#bx9)"/>
<rect x="156.75" y="522.9" width="9.7" height="4.2" rx="1.4" fill="rgb(0,0,0)" opacity="0.5" filter="url(#bx9)"/>
<rect x="172.39" y="522.9" width="9.7" height="4.2" rx="1.4" fill="rgb(0,0,0)" opacity="0.69" filter="url(#bx9)"/>
<rect x="188.03" y="522.9" width="9.7" height="4.2" rx="1.4" fill="rgb(0,0,0)" opacity="0.4" filter="url(#bx9)"/>
<rect x="203.67" y="522.9" width="9.7" height="4.2" rx="1.4" fill="rgb(0,0,0)" opacity="0.34" filter="url(#bx9)"/>
<rect x="73.6" y="540" width="141.9" height="29.9" fill="rgb(204,152,168)" />
<rect x="76.5" y="541" width="10.8" height="27.9" fill="rgb(208,130,160)" filter="url(#b8)"/>
<rect x="76.9" y="546.3" width="10" height="2.4" fill="rgb(195,80,135)" opacity="0.65" filter="url(#b8)"/>
<rect x="76.9" y="554.6" width="10" height="2.4" fill="rgb(195,80,135)" opacity="0.55" filter="url(#b8)"/>
<rect x="76.9" y="562" width="10" height="2.4" fill="rgb(195,80,135)" opacity="0.3" filter="url(#b8)"/>
<rect x="92.14" y="541" width="10.8" height="27.9" fill="rgb(208,130,160)" filter="url(#b8)"/>
<rect x="92.54" y="546.3" width="10" height="2.4" fill="rgb(195,80,135)" opacity="0.65" filter="url(#b8)"/>
<rect x="92.54" y="554.6" width="10" height="2.4" fill="rgb(195,80,135)" opacity="0.55" filter="url(#b8)"/>
<rect x="92.54" y="562" width="10" height="2.4" fill="rgb(195,80,135)" opacity="0.3" filter="url(#b8)"/>
<rect x="107.78" y="541" width="10.8" height="27.9" fill="rgb(208,130,160)" filter="url(#b8)"/>
<rect x="108.18" y="546.3" width="10" height="2.4" fill="rgb(195,80,135)" opacity="0.65" filter="url(#b8)"/>
<rect x="108.18" y="554.6" width="10" height="2.4" fill="rgb(195,80,135)" opacity="0.55" filter="url(#b8)"/>
<rect x="108.18" y="562" width="10" height="2.4" fill="rgb(195,80,135)" opacity="0.3" filter="url(#b8)"/>
<rect x="123.42" y="541" width="10.8" height="27.9" fill="rgb(208,130,160)" filter="url(#b8)"/>
<rect x="123.82" y="546.3" width="10" height="2.4" fill="rgb(195,80,135)" opacity="0.65" filter="url(#b8)"/>
<rect x="123.82" y="554.6" width="10" height="2.4" fill="rgb(195,80,135)" opacity="0.55" filter="url(#b8)"/>
<rect x="123.82" y="562" width="10" height="2.4" fill="rgb(195,80,135)" opacity="0.3" filter="url(#b8)"/>
<rect x="139.06" y="541" width="10.8" height="27.9" fill="rgb(208,130,160)" filter="url(#b8)"/>
<rect x="139.46" y="546.3" width="10" height="2.4" fill="rgb(195,80,135)" opacity="0.65" filter="url(#b8)"/>
<rect x="139.46" y="554.6" width="10" height="2.4" fill="rgb(195,80,135)" opacity="0.55" filter="url(#b8)"/>
<rect x="139.46" y="562" width="10" height="2.4" fill="rgb(195,80,135)" opacity="0.3" filter="url(#b8)"/>
<rect x="154.7" y="541" width="10.8" height="27.9" fill="rgb(208,130,160)" filter="url(#b8)"/>
<rect x="155.1" y="546.3" width="10" height="2.4" fill="rgb(195,80,135)" opacity="0.65" filter="url(#b8)"/>
<rect x="155.1" y="554.6" width="10" height="2.4" fill="rgb(195,80,135)" opacity="0.55" filter="url(#b8)"/>
<rect x="155.1" y="562" width="10" height="2.4" fill="rgb(195,80,135)" opacity="0.3" filter="url(#b8)"/>
<rect x="170.34" y="541" width="10.8" height="27.9" fill="rgb(208,130,160)" filter="url(#b8)"/>
<rect x="170.74" y="546.3" width="10" height="2.4" fill="rgb(195,80,135)" opacity="0.65" filter="url(#b8)"/>
<rect x="170.74" y="554.6" width="10" height="2.4" fill="rgb(195,80,135)" opacity="0.55" filter="url(#b8)"/>
<rect x="170.74" y="562" width="10" height="2.4" fill="rgb(195,80,135)" opacity="0.3" filter="url(#b8)"/>
<rect x="185.98" y="541" width="10.8" height="27.9" fill="rgb(208,130,160)" filter="url(#b8)"/>
<rect x="186.38" y="546.3" width="10" height="2.4" fill="rgb(195,80,135)" opacity="0.65" filter="url(#b8)"/>
<rect x="186.38" y="554.6" width="10" height="2.4" fill="rgb(195,80,135)" opacity="0.55" filter="url(#b8)"/>
<rect x="186.38" y="562" width="10" height="2.4" fill="rgb(195,80,135)" opacity="0.3" filter="url(#b8)"/>
<rect x="201.62" y="541" width="10.8" height="27.9" fill="rgb(208,130,160)" filter="url(#b8)"/>
<rect x="202.02" y="546.3" width="10" height="2.4" fill="rgb(195,80,135)" opacity="0.65" filter="url(#b8)"/>
<rect x="202.02" y="554.6" width="10" height="2.4" fill="rgb(195,80,135)" opacity="0.55" filter="url(#b8)"/>
<rect x="202.02" y="562" width="10" height="2.4" fill="rgb(195,80,135)" opacity="0.3" filter="url(#b8)"/>
<rect x="73.6" y="511.3" width="141.9" height="58.6" fill="none" stroke="#3a3434" stroke-width="1.1"/>
<line x1="73.6" y1="540" x2="215.5" y2="540" stroke="#3a3434" stroke-width="1.3" />
<text x="55.2" y="507.82" font-size="7" text-anchor="start" font-weight="normal" fill="#231f20" stroke="#231f20" stroke-width="0.16" >(kDa)</text>
<text x="23.5" y="527.72" font-size="8.4" text-anchor="start" font-weight="normal" fill="#231f20" stroke="#231f20" stroke-width="0.16" >CDK9</text>
<text x="17.5" y="559.75" font-size="8.2" text-anchor="start" font-weight="normal" fill="#231f20" stroke="#231f20" stroke-width="0.16" >Ponceau</text>
<text x="71.3" y="515.1" font-size="6.4" text-anchor="end" font-weight="normal" fill="#231f20" stroke="#231f20" stroke-width="0.16" >50</text>
<line x1="71.4" y1="512.8" x2="73.6" y2="512.8" stroke="#231f20" stroke-width="0.6" />
<text x="71.3" y="532.6" font-size="6.4" text-anchor="end" font-weight="normal" fill="#231f20" stroke="#231f20" stroke-width="0.16" >37</text>
<line x1="71.4" y1="530.3" x2="73.6" y2="530.3" stroke="#231f20" stroke-width="0.6" />
<text x="71.3" y="544.5" font-size="6.4" text-anchor="end" font-weight="normal" fill="#231f20" stroke="#231f20" stroke-width="0.16" >50</text>
<line x1="71.4" y1="542.2" x2="73.6" y2="542.2" stroke="#231f20" stroke-width="0.6" />
<text x="71.3" y="564.3" font-size="6.4" text-anchor="end" font-weight="normal" fill="#231f20" stroke="#231f20" stroke-width="0.16" >37</text>
<line x1="71.4" y1="562" x2="73.6" y2="562" stroke="#231f20" stroke-width="0.6" />
<text x="72.6" y="582.14" font-size="7.9" text-anchor="end" font-weight="normal" fill="#231f20" stroke="#231f20" stroke-width="0.16" >Thal-SNS (h) :</text>
<text x="83.4" y="582.14" font-size="7.9" text-anchor="middle" font-weight="normal" fill="#231f20" stroke="#231f20" stroke-width="0.16" >0</text>
<text x="99.04" y="582.14" font-size="7.9" text-anchor="middle" font-weight="normal" fill="#231f20" stroke="#231f20" stroke-width="0.16" >1</text>
<text x="114.68" y="582.14" font-size="7.9" text-anchor="middle" font-weight="normal" fill="#231f20" stroke="#231f20" stroke-width="0.16" >2</text>
<text x="130.32" y="582.14" font-size="7.9" text-anchor="middle" font-weight="normal" fill="#231f20" stroke="#231f20" stroke-width="0.16" >0</text>
<text x="145.96" y="582.14" font-size="7.9" text-anchor="middle" font-weight="normal" fill="#231f20" stroke="#231f20" stroke-width="0.16" >1</text>
<text x="161.6" y="582.14" font-size="7.9" text-anchor="middle" font-weight="normal" fill="#231f20" stroke="#231f20" stroke-width="0.16" >2</text>
<text x="177.24" y="582.14" font-size="7.9" text-anchor="middle" font-weight="normal" fill="#231f20" stroke="#231f20" stroke-width="0.16" >0</text>
<text x="192.88" y="582.14" font-size="7.9" text-anchor="middle" font-weight="normal" fill="#231f20" stroke="#231f20" stroke-width="0.16" >1</text>
<text x="208.52" y="582.14" font-size="7.9" text-anchor="middle" font-weight="normal" fill="#231f20" stroke="#231f20" stroke-width="0.16" >2</text>
<line x1="126.8" y1="585.5" x2="164.7" y2="585.5" stroke="#777" stroke-width="1.2" />
<text x="145.75" y="596.32" font-size="8.4" text-anchor="middle" font-weight="normal" fill="#231f20" stroke="#231f20" stroke-width="0.16" >GSK</text>
<line x1="174" y1="585.5" x2="211" y2="585.5" stroke="#777" stroke-width="1.2" />
<text x="192.5" y="596.32" font-size="8.4" text-anchor="middle" font-weight="normal" fill="#231f20" stroke="#231f20" stroke-width="0.16" >Lumi</text>
<rect x="81.2" y="613.5" width="8" height="90.4" fill="#eaa892" />
<line x1="81.2" y1="613.8" x2="89.2" y2="613.8" stroke="#8a3a2a" stroke-width="1" />
<circle cx="83.4" cy="613.5" r="1.05" fill="#111"/>
<circle cx="87" cy="613.5" r="1.05" fill="#111"/>
<rect x="94.9" y="637" width="8" height="66.9" fill="#a5a6d4" />
<line x1="94.9" y1="637.3" x2="102.9" y2="637.3" stroke="#2a2a60" stroke-width="1" />
<circle cx="98.9" cy="633.39" r="1.05" fill="#111"/>
<circle cx="98.9" cy="643.33" r="1.05" fill="#111"/>
<rect x="107.8" y="646.22" width="8" height="57.68" fill="#c8e2b2" />
<line x1="107.8" y1="646.52" x2="115.8" y2="646.52" stroke="#3a5a2a" stroke-width="1" />
<circle cx="111.8" cy="645.14" r="1.05" fill="#111"/>
<circle cx="111.8" cy="647.85" r="1.05" fill="#111"/>
<rect x="128" y="624.35" width="8" height="79.55" fill="#eaa892" />
<line x1="128" y1="624.65" x2="136" y2="624.65" stroke="#8a3a2a" stroke-width="1" />
<circle cx="132" cy="619.83" r="1.05" fill="#111"/>
<circle cx="132" cy="628.87" r="1.05" fill="#111"/>
<rect x="141.3" y="654.81" width="8" height="49.09" fill="#a5a6d4" />
<line x1="141.3" y1="655.11" x2="149.3" y2="655.11" stroke="#2a2a60" stroke-width="1" />
<circle cx="147.3" cy="654.18" r="1.05" fill="#111"/>
<rect x="154.4" y="668.1" width="8" height="35.8" fill="#c8e2b2" />
<line x1="154.4" y1="668.4" x2="162.4" y2="668.4" stroke="#3a5a2a" stroke-width="1" />
<circle cx="158.4" cy="666.84" r="1.05" fill="#111"/>
<circle cx="158.4" cy="669.55" r="1.05" fill="#111"/>
<rect x="175.2" y="656.44" width="8" height="47.46" fill="#eaa892" />
<line x1="175.2" y1="656.74" x2="183.2" y2="656.74" stroke="#8a3a2a" stroke-width="1" />
<circle cx="181.2" cy="655.54" r="1.05" fill="#111"/>
<rect x="188.1" y="674.07" width="8" height="29.83" fill="#a5a6d4" />
<line x1="188.1" y1="674.37" x2="196.1" y2="674.37" stroke="#2a2a60" stroke-width="1" />
<circle cx="194.1" cy="673.62" r="1.05" fill="#111"/>
<rect x="200.8" y="681.3" width="8" height="22.6" fill="#c8e2b2" />
<line x1="200.8" y1="681.6" x2="208.8" y2="681.6" stroke="#3a5a2a" stroke-width="1" />
<circle cx="206.8" cy="680.85" r="1.05" fill="#111"/>
<line x1="77.8" y1="605.8" x2="77.8" y2="704.4" stroke="#231f20" stroke-width="1.3" />
<line x1="77.3" y1="704.1" x2="213.7" y2="704.1" stroke="#231f20" stroke-width="1.5" />
<line x1="74.4" y1="613.5" x2="77.8" y2="613.5" stroke="#231f20" stroke-width="1" />
<text x="74.2" y="615.95" font-size="6.8" text-anchor="end" font-weight="normal" fill="#231f20" stroke="#231f20" stroke-width="0.12" >1.0</text>
<line x1="74.4" y1="636.1" x2="77.8" y2="636.1" stroke="#231f20" stroke-width="1" />
<text x="74.2" y="638.55" font-size="6.8" text-anchor="end" font-weight="normal" fill="#231f20" stroke="#231f20" stroke-width="0.12" >0.75</text>
<line x1="74.4" y1="658.7" x2="77.8" y2="658.7" stroke="#231f20" stroke-width="1" />
<text x="74.2" y="661.15" font-size="6.8" text-anchor="end" font-weight="normal" fill="#231f20" stroke="#231f20" stroke-width="0.12" >0.5</text>
<line x1="74.4" y1="681.3" x2="77.8" y2="681.3" stroke="#231f20" stroke-width="1" />
<text x="74.2" y="683.75" font-size="6.8" text-anchor="end" font-weight="normal" fill="#231f20" stroke="#231f20" stroke-width="0.12" >0.25</text>
<line x1="74.4" y1="703.9" x2="77.8" y2="703.9" stroke="#231f20" stroke-width="1" />
<text x="74.2" y="706.35" font-size="6.8" text-anchor="end" font-weight="normal" fill="#231f20" stroke="#231f20" stroke-width="0.12" >0.0</text>
<line x1="75.6" y1="692.6" x2="77.8" y2="692.6" stroke="#231f20" stroke-width="0.9" />
<line x1="75.6" y1="670" x2="77.8" y2="670" stroke="#231f20" stroke-width="0.9" />
<line x1="75.6" y1="647.4" x2="77.8" y2="647.4" stroke="#231f20" stroke-width="0.9" />
<line x1="75.6" y1="624.8" x2="77.8" y2="624.8" stroke="#231f20" stroke-width="0.9" />
<text x="0" y="2.92" font-size="8.1" text-anchor="middle" font-weight="normal" fill="#231f20" stroke="#231f20" stroke-width="0.16" transform="translate(50.5,650.4) rotate(-90)">CDK9 signal (fold)</text>
<text x="72.6" y="715.64" font-size="7.9" text-anchor="end" font-weight="normal" fill="#231f20" stroke="#231f20" stroke-width="0.16" >Thal-SNS (h) :</text>
<text x="83.4" y="715.64" font-size="7.9" text-anchor="middle" font-weight="normal" fill="#231f20" stroke="#231f20" stroke-width="0.16" >0</text>
<text x="99.04" y="715.64" font-size="7.9" text-anchor="middle" font-weight="normal" fill="#231f20" stroke="#231f20" stroke-width="0.16" >1</text>
<text x="114.68" y="715.64" font-size="7.9" text-anchor="middle" font-weight="normal" fill="#231f20" stroke="#231f20" stroke-width="0.16" >2</text>
<text x="130.32" y="715.64" font-size="7.9" text-anchor="middle" font-weight="normal" fill="#231f20" stroke="#231f20" stroke-width="0.16" >0</text>
<text x="145.96" y="715.64" font-size="7.9" text-anchor="middle" font-weight="normal" fill="#231f20" stroke="#231f20" stroke-width="0.16" >1</text>
<text x="161.6" y="715.64" font-size="7.9" text-anchor="middle" font-weight="normal" fill="#231f20" stroke="#231f20" stroke-width="0.16" >2</text>
<text x="177.24" y="715.64" font-size="7.9" text-anchor="middle" font-weight="normal" fill="#231f20" stroke="#231f20" stroke-width="0.16" >0</text>
<text x="192.88" y="715.64" font-size="7.9" text-anchor="middle" font-weight="normal" fill="#231f20" stroke="#231f20" stroke-width="0.16" >1</text>
<text x="208.52" y="715.64" font-size="7.9" text-anchor="middle" font-weight="normal" fill="#231f20" stroke="#231f20" stroke-width="0.16" >2</text>
<line x1="126" y1="719.5" x2="164.7" y2="719.5" stroke="#777" stroke-width="1.2" />
<text x="145.35" y="729.52" font-size="8.4" text-anchor="middle" font-weight="normal" fill="#231f20" stroke="#231f20" stroke-width="0.16" >GSK</text>
<line x1="172.7" y1="719.5" x2="210.2" y2="719.5" stroke="#777" stroke-width="1.2" />
<text x="191.45" y="729.52" font-size="8.4" text-anchor="middle" font-weight="normal" fill="#231f20" stroke="#231f20" stroke-width="0.16" >Lumi</text>
<text x="244.8" y="489.6" font-size="16" text-anchor="start" font-weight="bold" fill="#000" >i</text>
<rect x="298.2" y="502.9" width="137.3" height="43.7" fill="rgb(242,242,242)" />
<rect x="391.2" y="516.9" width="12" height="24" fill="#bbb" opacity="0.3" filter="url(#b20)"/>
<rect x="300.6" y="516" width="12" height="12" fill="#888" opacity="0.25" filter="url(#b15)"/>
<rect x="300.75" y="519.1" width="11.7" height="5" rx="1.67" fill="rgb(0,0,0)" opacity="1" filter="url(#bx10)"/>
<rect x="315.7" y="516" width="12" height="12" fill="#888" opacity="0.18" filter="url(#b15)"/>
<rect x="315.85" y="519.5" width="11.7" height="4.2" rx="1.4" fill="rgb(0,0,0)" opacity="0.81" filter="url(#bx10)"/>
<rect x="330.8" y="516" width="12" height="12" fill="#888" opacity="0.12" filter="url(#b15)"/>
<rect x="330.95" y="519.5" width="11.7" height="4.2" rx="1.4" fill="rgb(0,0,0)" opacity="0.56" filter="url(#bx10)"/>
<rect x="345.9" y="516" width="12" height="12" fill="#888" opacity="0.18" filter="url(#b15)"/>
<rect x="346.05" y="519.5" width="11.7" height="4.2" rx="1.4" fill="rgb(0,0,0)" opacity="0.81" filter="url(#bx10)"/>
<rect x="361" y="516" width="12" height="12" fill="#888" opacity="0.14" filter="url(#b15)"/>
<rect x="361.15" y="519.5" width="11.7" height="4.2" rx="1.4" fill="rgb(0,0,0)" opacity="0.65" filter="url(#bx10)"/>
<rect x="376.1" y="516" width="12" height="12" fill="#888" opacity="0.11" filter="url(#b15)"/>
<rect x="376.25" y="519.5" width="11.7" height="4.2" rx="1.4" fill="rgb(0,0,0)" opacity="0.5" filter="url(#bx10)"/>
<rect x="391.2" y="516" width="12" height="12" fill="#888" opacity="0.25" filter="url(#b15)"/>
<rect x="391.35" y="519.1" width="11.7" height="5" rx="1.67" fill="rgb(0,0,0)" opacity="1" filter="url(#bx10)"/>
<rect x="406.3" y="516" width="12" height="12" fill="#888" opacity="0.2" filter="url(#b15)"/>
<rect x="406.45" y="519.5" width="11.7" height="4.2" rx="1.4" fill="rgb(0,0,0)" opacity="0.87" filter="url(#bx10)"/>
<rect x="421.4" y="516" width="12" height="12" fill="#888" opacity="0.17" filter="url(#b15)"/>
<rect x="421.55" y="519.5" width="11.7" height="4.2" rx="1.4" fill="rgb(0,0,0)" opacity="0.76" filter="url(#bx10)"/>
<rect x="298.2" y="546.6" width="137.3" height="33.5" fill="rgb(222,176,178)" />
<rect x="300.8" y="547.4" width="11.6" height="31.9" fill="rgb(214,138,145)" filter="url(#b6)"/>
<rect x="301.1" y="552.7" width="11" height="3" fill="rgb(205,85,100)" opacity="0.5" filter="url(#b10)"/>
<rect x="301.1" y="557.5" width="11" height="3" fill="rgb(205,85,100)" opacity="0.25" filter="url(#b10)"/>
<rect x="301.1" y="568" width="11" height="3" fill="rgb(205,85,100)" opacity="0.4" filter="url(#b10)"/>
<rect x="315.9" y="547.4" width="11.6" height="31.9" fill="rgb(214,138,145)" filter="url(#b6)"/>
<rect x="316.2" y="552.7" width="11" height="3" fill="rgb(205,85,100)" opacity="0.5" filter="url(#b10)"/>
<rect x="316.2" y="557.5" width="11" height="3" fill="rgb(205,85,100)" opacity="0.25" filter="url(#b10)"/>
<rect x="316.2" y="568" width="11" height="3" fill="rgb(205,85,100)" opacity="0.4" filter="url(#b10)"/>
<rect x="331" y="547.4" width="11.6" height="31.9" fill="rgb(214,138,145)" filter="url(#b6)"/>
<rect x="331.3" y="552.7" width="11" height="3" fill="rgb(205,85,100)" opacity="0.5" filter="url(#b10)"/>
<rect x="331.3" y="557.5" width="11" height="3" fill="rgb(205,85,100)" opacity="0.25" filter="url(#b10)"/>
<rect x="331.3" y="568" width="11" height="3" fill="rgb(205,85,100)" opacity="0.4" filter="url(#b10)"/>
<rect x="346.1" y="547.4" width="11.6" height="31.9" fill="rgb(214,138,145)" filter="url(#b6)"/>
<rect x="346.4" y="552.7" width="11" height="3" fill="rgb(205,85,100)" opacity="0.5" filter="url(#b10)"/>
<rect x="346.4" y="557.5" width="11" height="3" fill="rgb(205,85,100)" opacity="0.25" filter="url(#b10)"/>
<rect x="346.4" y="568" width="11" height="3" fill="rgb(205,85,100)" opacity="0.4" filter="url(#b10)"/>
<rect x="361.2" y="547.4" width="11.6" height="31.9" fill="rgb(214,138,145)" filter="url(#b6)"/>
<rect x="361.5" y="552.7" width="11" height="3" fill="rgb(205,85,100)" opacity="0.5" filter="url(#b10)"/>
<rect x="361.5" y="557.5" width="11" height="3" fill="rgb(205,85,100)" opacity="0.25" filter="url(#b10)"/>
<rect x="361.5" y="568" width="11" height="3" fill="rgb(205,85,100)" opacity="0.4" filter="url(#b10)"/>
<rect x="376.3" y="547.4" width="11.6" height="31.9" fill="rgb(214,138,145)" filter="url(#b6)"/>
<rect x="376.6" y="552.7" width="11" height="3" fill="rgb(205,85,100)" opacity="0.5" filter="url(#b10)"/>
<rect x="376.6" y="557.5" width="11" height="3" fill="rgb(205,85,100)" opacity="0.25" filter="url(#b10)"/>
<rect x="376.6" y="568" width="11" height="3" fill="rgb(205,85,100)" opacity="0.4" filter="url(#b10)"/>
<rect x="391.4" y="547.4" width="11.6" height="31.9" fill="rgb(214,138,145)" filter="url(#b6)"/>
<rect x="391.7" y="552.7" width="11" height="3" fill="rgb(205,85,100)" opacity="0.5" filter="url(#b10)"/>
<rect x="391.7" y="557.5" width="11" height="3" fill="rgb(205,85,100)" opacity="0.25" filter="url(#b10)"/>
<rect x="391.7" y="568" width="11" height="3" fill="rgb(205,85,100)" opacity="0.4" filter="url(#b10)"/>
<rect x="406.5" y="547.4" width="11.6" height="31.9" fill="rgb(214,138,145)" filter="url(#b6)"/>
<rect x="406.8" y="552.7" width="11" height="3" fill="rgb(205,85,100)" opacity="0.5" filter="url(#b10)"/>
<rect x="406.8" y="557.5" width="11" height="3" fill="rgb(205,85,100)" opacity="0.25" filter="url(#b10)"/>
<rect x="406.8" y="568" width="11" height="3" fill="rgb(205,85,100)" opacity="0.4" filter="url(#b10)"/>
<rect x="421.6" y="547.4" width="11.6" height="31.9" fill="rgb(214,138,145)" filter="url(#b6)"/>
<rect x="421.9" y="552.7" width="11" height="3" fill="rgb(205,85,100)" opacity="0.5" filter="url(#b10)"/>
<rect x="421.9" y="557.5" width="11" height="3" fill="rgb(205,85,100)" opacity="0.25" filter="url(#b10)"/>
<rect x="421.9" y="568" width="11" height="3" fill="rgb(205,85,100)" opacity="0.4" filter="url(#b10)"/>
<rect x="298.2" y="502.9" width="137.3" height="77.2" fill="none" stroke="#3a3434" stroke-width="1.1"/>
<line x1="298.2" y1="546.6" x2="435.5" y2="546.6" stroke="#3a3434" stroke-width="1.3" />
<text x="279.5" y="499.82" font-size="7" text-anchor="start" font-weight="normal" fill="#231f20" stroke="#231f20" stroke-width="0.16" >(kDa)</text>
<text x="256.6" y="528.44" font-size="9" text-anchor="start" font-weight="normal" fill="#231f20" stroke="#231f20" stroke-width="0.16" >ER-α</text>
<text x="250.6" y="570.33" font-size="8.7" text-anchor="start" font-weight="normal" fill="#231f20" stroke="#231f20" stroke-width="0.16" >Ponceau</text>
<text x="295.9" y="507.6" font-size="6.4" text-anchor="end" font-weight="normal" fill="#231f20" stroke="#231f20" stroke-width="0.16" >75</text>
<line x1="296" y1="505.3" x2="298.2" y2="505.3" stroke="#231f20" stroke-width="0.6" />
<text x="295.9" y="543.5" font-size="6.4" text-anchor="end" font-weight="normal" fill="#231f20" stroke="#231f20" stroke-width="0.16" >50</text>
<line x1="296" y1="541.2" x2="298.2" y2="541.2" stroke="#231f20" stroke-width="0.6" />
<text x="295.9" y="555.6" font-size="6.4" text-anchor="end" font-weight="normal" fill="#231f20" stroke="#231f20" stroke-width="0.16" >50</text>
<line x1="296" y1="553.3" x2="298.2" y2="553.3" stroke="#231f20" stroke-width="0.6" />
<text x="295.9" y="580.4" font-size="6.4" text-anchor="end" font-weight="normal" fill="#231f20" stroke="#231f20" stroke-width="0.16" >37</text>
<line x1="296" y1="578.1" x2="298.2" y2="578.1" stroke="#231f20" stroke-width="0.6" />
<text x="296.4" y="590.44" font-size="7.9" text-anchor="end" font-weight="normal" fill="#231f20" stroke="#231f20" stroke-width="0.16" >ARV471 (h) :</text>
<text x="306.6" y="591.04" font-size="7.9" text-anchor="middle" font-weight="normal" fill="#231f20" stroke="#231f20" stroke-width="0.16" >0</text>
<text x="321.7" y="591.04" font-size="7.9" text-anchor="middle" font-weight="normal" fill="#231f20" stroke="#231f20" stroke-width="0.16" >1</text>
<text x="336.8" y="591.04" font-size="7.9" text-anchor="middle" font-weight="normal" fill="#231f20" stroke="#231f20" stroke-width="0.16" >2</text>
<text x="351.9" y="591.04" font-size="7.9" text-anchor="middle" font-weight="normal" fill="#231f20" stroke="#231f20" stroke-width="0.16" >0</text>
<text x="367" y="591.04" font-size="7.9" text-anchor="middle" font-weight="normal" fill="#231f20" stroke="#231f20" stroke-width="0.16" >1</text>
<text x="382.1" y="591.04" font-size="7.9" text-anchor="middle" font-weight="normal" fill="#231f20" stroke="#231f20" stroke-width="0.16" >2</text>
<text x="397.2" y="591.04" font-size="7.9" text-anchor="middle" font-weight="normal" fill="#231f20" stroke="#231f20" stroke-width="0.16" >0</text>
<text x="412.3" y="591.04" font-size="7.9" text-anchor="middle" font-weight="normal" fill="#231f20" stroke="#231f20" stroke-width="0.16" >1</text>
<text x="427.4" y="591.04" font-size="7.9" text-anchor="middle" font-weight="normal" fill="#231f20" stroke="#231f20" stroke-width="0.16" >2</text>
<line x1="348.2" y1="594.5" x2="387.8" y2="594.5" stroke="#333" stroke-width="1.2" />
<text x="368" y="604.02" font-size="8.4" text-anchor="middle" font-weight="normal" fill="#231f20" stroke="#231f20" stroke-width="0.16" >Lumi</text>
<line x1="394.5" y1="594.5" x2="431.5" y2="594.5" stroke="#333" stroke-width="1.2" />
<text x="413" y="604.02" font-size="8.4" text-anchor="middle" font-weight="normal" fill="#231f20" stroke="#231f20" stroke-width="0.16" >GSK</text>
<rect x="305.9" y="618.1" width="7.8" height="87.3" fill="#eaa892" />
<line x1="305.9" y1="618.4" x2="313.7" y2="618.4" stroke="#8a3a2a" stroke-width="1" />
<circle cx="308" cy="618.1" r="1.05" fill="#111"/>
<circle cx="311.6" cy="618.1" r="1.05" fill="#111"/>
<rect x="318.1" y="655.64" width="7.8" height="49.76" fill="#a5a6d4" />
<line x1="318.1" y1="655.94" x2="325.9" y2="655.94" stroke="#2a2a60" stroke-width="1" />
<circle cx="322" cy="653.02" r="1.05" fill="#111"/>
<circle cx="322" cy="660" r="1.05" fill="#111"/>
<rect x="330.7" y="677.46" width="7.8" height="27.94" fill="#c8e2b2" />
<line x1="330.7" y1="677.76" x2="338.5" y2="677.76" stroke="#3a5a2a" stroke-width="1" />
<circle cx="334.6" cy="673.97" r="1.05" fill="#111"/>
<circle cx="334.6" cy="680.96" r="1.05" fill="#111"/>
<rect x="350.3" y="649.53" width="7.8" height="55.87" fill="#eaa892" />
<line x1="350.3" y1="649.83" x2="358.1" y2="649.83" stroke="#8a3a2a" stroke-width="1" />
<circle cx="352.7" cy="649.53" r="1.05" fill="#111"/>
<circle cx="355.7" cy="649.53" r="1.05" fill="#111"/>
<rect x="363.3" y="673.97" width="7.8" height="31.43" fill="#a5a6d4" />
<line x1="363.3" y1="674.27" x2="371.1" y2="674.27" stroke="#2a2a60" stroke-width="1" />
<circle cx="367.2" cy="670.48" r="1.05" fill="#111"/>
<circle cx="367.2" cy="676.59" r="1.05" fill="#111"/>
<rect x="375.5" y="687.94" width="7.8" height="17.46" fill="#c8e2b2" />
<line x1="375.5" y1="688.24" x2="383.3" y2="688.24" stroke="#3a5a2a" stroke-width="1" />
<circle cx="379.4" cy="686.19" r="1.05" fill="#111"/>
<circle cx="379.4" cy="690.56" r="1.05" fill="#111"/>
<rect x="396.3" y="621.59" width="7.8" height="83.81" fill="#eaa892" />
<line x1="396.3" y1="621.89" x2="404.1" y2="621.89" stroke="#8a3a2a" stroke-width="1" />
<circle cx="400.2" cy="614.61" r="1.05" fill="#111"/>
<circle cx="400.2" cy="628.58" r="1.05" fill="#111"/>
<rect x="408.6" y="656.51" width="7.8" height="48.89" fill="#a5a6d4" />
<line x1="408.6" y1="656.81" x2="416.4" y2="656.81" stroke="#2a2a60" stroke-width="1" />
<circle cx="412.5" cy="653.02" r="1.05" fill="#111"/>
<circle cx="412.5" cy="660" r="1.05" fill="#111"/>
<rect x="421.3" y="675.72" width="7.8" height="29.68" fill="#c8e2b2" />
<line x1="421.3" y1="676.02" x2="429.1" y2="676.02" stroke="#3a5a2a" stroke-width="1" />
<circle cx="425.2" cy="664.37" r="1.05" fill="#111"/>
<circle cx="425.2" cy="687.07" r="1.05" fill="#111"/>
<line x1="301.6" y1="610.4" x2="301.6" y2="705.9" stroke="#231f20" stroke-width="1.3" />
<line x1="301.1" y1="705.6" x2="433.2" y2="705.6" stroke="#231f20" stroke-width="1.5" />
<line x1="298.2" y1="618.1" x2="301.6" y2="618.1" stroke="#231f20" stroke-width="1" />
<text x="296.4" y="620.55" font-size="6.8" text-anchor="end" font-weight="normal" fill="#231f20" stroke="#231f20" stroke-width="0.12" >1.0</text>
<line x1="298.2" y1="639.92" x2="301.6" y2="639.92" stroke="#231f20" stroke-width="1" />
<text x="296.4" y="642.37" font-size="6.8" text-anchor="end" font-weight="normal" fill="#231f20" stroke="#231f20" stroke-width="0.12" >0.75</text>
<line x1="298.2" y1="661.75" x2="301.6" y2="661.75" stroke="#231f20" stroke-width="1" />
<text x="296.4" y="664.2" font-size="6.8" text-anchor="end" font-weight="normal" fill="#231f20" stroke="#231f20" stroke-width="0.12" >0.5</text>
<line x1="298.2" y1="683.58" x2="301.6" y2="683.58" stroke="#231f20" stroke-width="1" />
<text x="296.4" y="686.02" font-size="6.8" text-anchor="end" font-weight="normal" fill="#231f20" stroke="#231f20" stroke-width="0.12" >0.25</text>
<line x1="298.2" y1="705.4" x2="301.6" y2="705.4" stroke="#231f20" stroke-width="1" />
<text x="296.4" y="707.85" font-size="6.8" text-anchor="end" font-weight="normal" fill="#231f20" stroke="#231f20" stroke-width="0.12" >0.0</text>
<line x1="299.4" y1="694.49" x2="301.6" y2="694.49" stroke="#231f20" stroke-width="0.9" />
<line x1="299.4" y1="672.66" x2="301.6" y2="672.66" stroke="#231f20" stroke-width="0.9" />
<line x1="299.4" y1="650.84" x2="301.6" y2="650.84" stroke="#231f20" stroke-width="0.9" />
<line x1="299.4" y1="629.01" x2="301.6" y2="629.01" stroke="#231f20" stroke-width="0.9" />
<text x="0" y="2.99" font-size="8.3" text-anchor="middle" font-weight="normal" fill="#231f20" stroke="#231f20" stroke-width="0.16" transform="translate(275.0,656.0) rotate(-90)">ER-α signal (fold)</text>
<text x="296.8" y="715.24" font-size="7.9" text-anchor="end" font-weight="normal" fill="#231f20" stroke="#231f20" stroke-width="0.16" >ARV471 (h) :</text>
<text x="308.6" y="715.24" font-size="7.9" text-anchor="middle" font-weight="normal" fill="#231f20" stroke="#231f20" stroke-width="0.16" >0</text>
<text x="321.8" y="715.24" font-size="7.9" text-anchor="middle" font-weight="normal" fill="#231f20" stroke="#231f20" stroke-width="0.16" >1</text>
<text x="334.3" y="715.24" font-size="7.9" text-anchor="middle" font-weight="normal" fill="#231f20" stroke="#231f20" stroke-width="0.16" >2</text>
<text x="352.4" y="715.24" font-size="7.9" text-anchor="middle" font-weight="normal" fill="#231f20" stroke="#231f20" stroke-width="0.16" >0</text>
<text x="366.1" y="715.24" font-size="7.9" text-anchor="middle" font-weight="normal" fill="#231f20" stroke="#231f20" stroke-width="0.16" >1</text>
<text x="379.6" y="715.24" font-size="7.9" text-anchor="middle" font-weight="normal" fill="#231f20" stroke="#231f20" stroke-width="0.16" >2</text>
<text x="397.7" y="715.24" font-size="7.9" text-anchor="middle" font-weight="normal" fill="#231f20" stroke="#231f20" stroke-width="0.16" >0</text>
<text x="410.8" y="715.24" font-size="7.9" text-anchor="middle" font-weight="normal" fill="#231f20" stroke="#231f20" stroke-width="0.16" >1</text>
<text x="423.4" y="715.24" font-size="7.9" text-anchor="middle" font-weight="normal" fill="#231f20" stroke="#231f20" stroke-width="0.16" >2</text>
<line x1="348.2" y1="718.5" x2="387.8" y2="718.5" stroke="#333" stroke-width="1.2" />
<text x="368" y="728.22" font-size="8.4" text-anchor="middle" font-weight="normal" fill="#231f20" stroke="#231f20" stroke-width="0.16" >Lumi</text>
<line x1="394.5" y1="718.5" x2="431.5" y2="718.5" stroke="#333" stroke-width="1.2" />
<text x="413" y="728.22" font-size="8.4" text-anchor="middle" font-weight="normal" fill="#231f20" stroke="#231f20" stroke-width="0.16" >GSK</text>
<text x="460" y="489" font-size="16" text-anchor="start" font-weight="bold" fill="#000" >j</text>
<rect x="517.8" y="502.6" width="116.2" height="44" fill="rgb(232,232,232)" />
<rect x="517.8" y="502.6" width="116.2" height="44" fill="url(#jbg)"/>
<rect x="520.5" y="508" width="15" height="32" fill="#999" opacity="0.4" filter="url(#b25)"/>
<rect x="521.4" y="517.8" width="13.2" height="5" rx="1.67" fill="rgb(0,0,0)" opacity="0.67" filter="url(#bx15)"/>
<rect x="521.4" y="527" width="13.2" height="5" rx="1.67" fill="rgb(0,0,0)" opacity="0.99" filter="url(#bx13)"/>
<rect x="539.5" y="508" width="15" height="32" fill="#999" opacity="0.27" filter="url(#b25)"/>
<rect x="540.4" y="517.8" width="13.2" height="5" rx="1.67" fill="rgb(0,0,0)" opacity="0.47" filter="url(#bx15)"/>
<rect x="540.4" y="527" width="13.2" height="5" rx="1.67" fill="rgb(0,0,0)" opacity="0.54" filter="url(#bx13)"/>
<rect x="558.5" y="508" width="15" height="32" fill="#999" opacity="0.35" filter="url(#b25)"/>
<rect x="559.4" y="517.8" width="13.2" height="5" rx="1.67" fill="rgb(0,0,0)" opacity="0.4" filter="url(#bx15)"/>
<rect x="559.4" y="527" width="13.2" height="5" rx="1.67" fill="rgb(0,0,0)" opacity="0.81" filter="url(#bx13)"/>
<rect x="577.5" y="508" width="15" height="32" fill="#999" opacity="0.19" filter="url(#b25)"/>
<rect x="578.4" y="517.8" width="13.2" height="5" rx="1.67" fill="rgb(0,0,0)" opacity="0.25" filter="url(#bx15)"/>
<rect x="578.4" y="527" width="13.2" height="5" rx="1.67" fill="rgb(0,0,0)" opacity="0.3" filter="url(#bx13)"/>
<rect x="596.8" y="508" width="15" height="32" fill="#999" opacity="0.4" filter="url(#b25)"/>
<rect x="597.7" y="517.8" width="13.2" height="5" rx="1.67" fill="rgb(0,0,0)" opacity="0.74" filter="url(#bx15)"/>
<rect x="597.7" y="527" width="13.2" height="5" rx="1.67" fill="rgb(0,0,0)" opacity="0.99" filter="url(#bx13)"/>
<rect x="616.4" y="508" width="15" height="32" fill="#999" opacity="0.27" filter="url(#b25)"/>
<rect x="617.3" y="517.8" width="13.2" height="5" rx="1.67" fill="rgb(0,0,0)" opacity="0.47" filter="url(#bx15)"/>
<rect x="617.3" y="527" width="13.2" height="5" rx="1.67" fill="rgb(0,0,0)" opacity="0.54" filter="url(#bx13)"/>
<rect x="517.8" y="546.6" width="116.2" height="32.5" fill="rgb(204,148,168)" />
<rect x="521.2" y="555.2" width="14" height="3" fill="rgb(200,100,145)" opacity="0.45" filter="url(#b10)"/>
<rect x="521.2" y="568.6" width="14" height="3" fill="rgb(200,100,145)" opacity="0.3" filter="url(#b10)"/>
<rect x="541" y="555.2" width="14" height="3" fill="rgb(200,100,145)" opacity="0.45" filter="url(#b10)"/>
<rect x="541" y="568.6" width="14" height="3" fill="rgb(200,100,145)" opacity="0.3" filter="url(#b10)"/>
<rect x="558.8" y="555.2" width="14" height="3" fill="rgb(200,100,145)" opacity="0.45" filter="url(#b10)"/>
<rect x="558.8" y="568.6" width="14" height="3" fill="rgb(200,100,145)" opacity="0.3" filter="url(#b10)"/>
<rect x="579" y="555.2" width="14" height="3" fill="rgb(200,100,145)" opacity="0.45" filter="url(#b10)"/>
<rect x="579" y="568.6" width="14" height="3" fill="rgb(200,100,145)" opacity="0.3" filter="url(#b10)"/>
<rect x="599.1" y="555.2" width="14" height="3" fill="rgb(200,100,145)" opacity="0.45" filter="url(#b10)"/>
<rect x="599.1" y="568.6" width="14" height="3" fill="rgb(200,100,145)" opacity="0.3" filter="url(#b10)"/>
<rect x="616.9" y="555.2" width="14" height="3" fill="rgb(200,100,145)" opacity="0.45" filter="url(#b10)"/>
<rect x="616.9" y="568.6" width="14" height="3" fill="rgb(200,100,145)" opacity="0.3" filter="url(#b10)"/>
<rect x="517.8" y="502.6" width="116.2" height="76.5" fill="none" stroke="#3a3434" stroke-width="1.1"/>
<line x1="517.8" y1="546.6" x2="634" y2="546.6" stroke="#3a3434" stroke-width="1.3" />
<text x="496.8" y="502.52" font-size="7" text-anchor="start" font-weight="normal" fill="#231f20" stroke="#231f20" stroke-width="0.16" >(kDa)</text>
<text x="514.5" y="512.26" font-size="7.4" text-anchor="end" font-weight="normal" fill="#231f20" stroke="#231f20" stroke-width="0.16" >250</text>
<line x1="515.3" y1="509.6" x2="517.8" y2="509.6" stroke="#231f20" stroke-width="0.7" />
<text x="514.5" y="529.76" font-size="7.4" text-anchor="end" font-weight="normal" fill="#231f20" stroke="#231f20" stroke-width="0.16" >150</text>
<line x1="515.3" y1="527.1" x2="517.8" y2="527.1" stroke="#231f20" stroke-width="0.7" />
<text x="469.1" y="529.5" font-size="8.6" text-anchor="start" font-weight="normal" fill="#231f20" stroke="#231f20" stroke-width="0.16" >c-MET</text>
<text x="467.8" y="568.8" font-size="8.6" text-anchor="start" font-weight="normal" fill="#231f20" stroke="#231f20" stroke-width="0.16" >Ponceau</text>
<text x="514.5" y="570.06" font-size="7.4" text-anchor="end" font-weight="normal" fill="#231f20" stroke="#231f20" stroke-width="0.16" >37</text>
<line x1="515.3" y1="567.4" x2="517.8" y2="567.4" stroke="#231f20" stroke-width="0.7" />
<text x="518.8" y="590.34" font-size="7.9" text-anchor="end" font-weight="normal" fill="#231f20" stroke="#231f20" stroke-width="0.16" >SJF8240 (h) :</text>
<text x="529" y="590.34" font-size="7.9" text-anchor="middle" font-weight="normal" fill="#231f20" stroke="#231f20" stroke-width="0.16" >0</text>
<text x="548.8" y="590.34" font-size="7.9" text-anchor="middle" font-weight="normal" fill="#231f20" stroke="#231f20" stroke-width="0.16" >6</text>
<text x="566.6" y="590.34" font-size="7.9" text-anchor="middle" font-weight="normal" fill="#231f20" stroke="#231f20" stroke-width="0.16" >0</text>
<text x="586.8" y="590.34" font-size="7.9" text-anchor="middle" font-weight="normal" fill="#231f20" stroke="#231f20" stroke-width="0.16" >6</text>
<text x="606.9" y="590.34" font-size="7.9" text-anchor="middle" font-weight="normal" fill="#231f20" stroke="#231f20" stroke-width="0.16" >0</text>
<text x="624.7" y="590.34" font-size="7.9" text-anchor="middle" font-weight="normal" fill="#231f20" stroke="#231f20" stroke-width="0.16" >6</text>
<line x1="560.1" y1="596.5" x2="593.7" y2="596.5" stroke="#333" stroke-width="1.2" />
<text x="576.9" y="605.52" font-size="8.4" text-anchor="middle" font-weight="normal" fill="#231f20" stroke="#231f20" stroke-width="0.16" >Lumi</text>
<line x1="599.4" y1="596.5" x2="633" y2="596.5" stroke="#333" stroke-width="1.2" />
<text x="616.2" y="605.52" font-size="8.4" text-anchor="middle" font-weight="normal" fill="#231f20" stroke="#231f20" stroke-width="0.16" >GSK</text>
<rect x="521" y="616.4" width="11" height="89.1" fill="#eaa892" />
<line x1="521" y1="616.7" x2="532" y2="616.7" stroke="#8a3a2a" stroke-width="1" />
<circle cx="524.5" cy="616.4" r="1.05" fill="#111"/>
<circle cx="528.5" cy="616.4" r="1.05" fill="#111"/>
<rect x="536.8" y="661.84" width="11" height="43.66" fill="#a5a6d4" />
<line x1="536.8" y1="662.14" x2="547.8" y2="662.14" stroke="#2a2a60" stroke-width="1" />
<circle cx="540.8" cy="662.73" r="1.05" fill="#111"/>
<circle cx="543.8" cy="661.84" r="1.05" fill="#111"/>
<rect x="562.3" y="652.04" width="11" height="53.46" fill="#eaa892" />
<line x1="562.3" y1="652.34" x2="573.3" y2="652.34" stroke="#8a3a2a" stroke-width="1" />
<circle cx="567.8" cy="645.8" r="1.05" fill="#111"/>
<circle cx="567.8" cy="656.5" r="1.05" fill="#111"/>
<rect x="577.1" y="684.12" width="11" height="21.38" fill="#a5a6d4" />
<line x1="577.1" y1="684.42" x2="588.1" y2="684.42" stroke="#2a2a60" stroke-width="1" />
<circle cx="582.6" cy="679.66" r="1.05" fill="#111"/>
<circle cx="582.6" cy="690.35" r="1.05" fill="#111"/>
<rect x="602.3" y="619.07" width="11" height="86.43" fill="#eaa892" />
<line x1="602.3" y1="619.37" x2="613.3" y2="619.37" stroke="#8a3a2a" stroke-width="1" />
<circle cx="607.8" cy="610.16" r="1.05" fill="#111"/>
<circle cx="607.8" cy="627.98" r="1.05" fill="#111"/>
<rect x="617.4" y="668.97" width="11" height="36.53" fill="#a5a6d4" />
<line x1="617.4" y1="669.27" x2="628.4" y2="669.27" stroke="#2a2a60" stroke-width="1" />
<circle cx="622.9" cy="665.4" r="1.05" fill="#111"/>
<circle cx="622.9" cy="671.64" r="1.05" fill="#111"/>
<line x1="517.1" y1="607.7" x2="517.1" y2="706" stroke="#231f20" stroke-width="1.3" />
<line x1="516.6" y1="705.7" x2="633" y2="705.7" stroke="#231f20" stroke-width="1.5" />
<line x1="513.7" y1="616.4" x2="517.1" y2="616.4" stroke="#231f20" stroke-width="1" />
<text x="513" y="618.85" font-size="6.8" text-anchor="end" font-weight="normal" fill="#231f20" stroke="#231f20" stroke-width="0.12" >1.0</text>
<line x1="513.7" y1="638.67" x2="517.1" y2="638.67" stroke="#231f20" stroke-width="1" />
<text x="513" y="641.12" font-size="6.8" text-anchor="end" font-weight="normal" fill="#231f20" stroke="#231f20" stroke-width="0.12" >0.75</text>
<line x1="513.7" y1="660.95" x2="517.1" y2="660.95" stroke="#231f20" stroke-width="1" />
<text x="513" y="663.4" font-size="6.8" text-anchor="end" font-weight="normal" fill="#231f20" stroke="#231f20" stroke-width="0.12" >0.5</text>
<line x1="513.7" y1="683.23" x2="517.1" y2="683.23" stroke="#231f20" stroke-width="1" />
<text x="513" y="685.67" font-size="6.8" text-anchor="end" font-weight="normal" fill="#231f20" stroke="#231f20" stroke-width="0.12" >0.25</text>
<line x1="513.7" y1="705.5" x2="517.1" y2="705.5" stroke="#231f20" stroke-width="1" />
<text x="513" y="707.95" font-size="6.8" text-anchor="end" font-weight="normal" fill="#231f20" stroke="#231f20" stroke-width="0.12" >0.0</text>
<line x1="514.9" y1="694.36" x2="517.1" y2="694.36" stroke="#231f20" stroke-width="0.9" />
<line x1="514.9" y1="672.09" x2="517.1" y2="672.09" stroke="#231f20" stroke-width="0.9" />
<line x1="514.9" y1="649.81" x2="517.1" y2="649.81" stroke="#231f20" stroke-width="0.9" />
<line x1="514.9" y1="627.54" x2="517.1" y2="627.54" stroke="#231f20" stroke-width="0.9" />
<text x="0" y="2.88" font-size="8" text-anchor="middle" font-weight="normal" fill="#231f20" stroke="#231f20" stroke-width="0.16" transform="translate(492.6,659.2) rotate(-90)">c-MET signal (fold)</text>
<text x="518.8" y="715.24" font-size="7.9" text-anchor="end" font-weight="normal" fill="#231f20" stroke="#231f20" stroke-width="0.16" >SJF8240 (h) :</text>
<text x="527.2" y="715.24" font-size="7.9" text-anchor="middle" font-weight="normal" fill="#231f20" stroke="#231f20" stroke-width="0.16" >0</text>
<text x="548" y="715.24" font-size="7.9" text-anchor="middle" font-weight="normal" fill="#231f20" stroke="#231f20" stroke-width="0.16" >6</text>
<text x="565.8" y="715.24" font-size="7.9" text-anchor="middle" font-weight="normal" fill="#231f20" stroke="#231f20" stroke-width="0.16" >0</text>
<text x="586" y="715.24" font-size="7.9" text-anchor="middle" font-weight="normal" fill="#231f20" stroke="#231f20" stroke-width="0.16" >6</text>
<text x="605.1" y="715.24" font-size="7.9" text-anchor="middle" font-weight="normal" fill="#231f20" stroke="#231f20" stroke-width="0.16" >0</text>
<text x="623.9" y="715.24" font-size="7.9" text-anchor="middle" font-weight="normal" fill="#231f20" stroke="#231f20" stroke-width="0.16" >6</text>
<line x1="558.5" y1="719.5" x2="593" y2="719.5" stroke="#333" stroke-width="1.2" />
<text x="575.75" y="728.82" font-size="8.4" text-anchor="middle" font-weight="normal" fill="#231f20" stroke="#231f20" stroke-width="0.16" >Lumi</text>
<line x1="598" y1="719.5" x2="633" y2="719.5" stroke="#333" stroke-width="1.2" />
<text x="615.5" y="728.82" font-size="8.4" text-anchor="middle" font-weight="normal" fill="#231f20" stroke="#231f20" stroke-width="0.16" >GSK</text>
<text x="125.8" y="767.6" font-size="16" text-anchor="start" font-weight="bold" fill="#000" >k</text>
<ellipse cx="270.1" cy="786.2" rx="29.6" ry="13.7" fill="url(#gblue)" />
<ellipse cx="328.9" cy="797.4" rx="29.2" ry="13.9" fill="url(#gblue)" />
<ellipse cx="391" cy="786.8" rx="29.2" ry="13.6" fill="url(#gblue)" />
<ellipse cx="199" cy="798.7" rx="18.8" ry="9" fill="url(#gblue)" />
<ellipse cx="174.5" cy="817.2" rx="18.5" ry="8.6" fill="url(#gblue)" />
<ellipse cx="461.9" cy="796.3" rx="19.3" ry="9.2" fill="url(#gblue)" />
<ellipse cx="477" cy="818.8" rx="19.6" ry="9.2" fill="url(#gblue)" />
<text x="270.1" y="790.14" font-size="10.4" text-anchor="middle" font-weight="normal" fill="#231f20" stroke="#231f20" stroke-width="0.2" >PARG</text>
<text x="328.9" y="801.34" font-size="10.4" text-anchor="middle" font-weight="normal" fill="#231f20" stroke="#231f20" stroke-width="0.2" >PERK</text>
<text x="391" y="790.74" font-size="10.4" text-anchor="middle" font-weight="normal" fill="#231f20" stroke="#231f20" stroke-width="0.2" >HSP90</text>
<line x1="268.2" y1="803.5" x2="268.2" y2="846.6" stroke="#111" stroke-width="3.4"/>
<line x1="276.95" y1="846.6" x2="259.45" y2="846.6" stroke="#111" stroke-width="3.4"/>
<line x1="305.5" y1="813.5" x2="286.2" y2="840.8" stroke="#111" stroke-width="3.4"/>
<line x1="292.32" y1="845.13" x2="280.08" y2="836.47" stroke="#111" stroke-width="3.4"/>
<line x1="390.2" y1="805" x2="390.2" y2="847.2" stroke="#111" stroke-width="3.4"/>
<line x1="398.45" y1="847.2" x2="381.95" y2="847.2" stroke="#111" stroke-width="3.4"/>
<line x1="196" y1="820" x2="223" y2="850" stroke="#777" stroke-width="3"/>
<line x1="228.57" y1="844.98" x2="217.43" y2="855.02" stroke="#777" stroke-width="3"/>
<line x1="448.5" y1="810.4" x2="420" y2="840.5" stroke="#777" stroke-width="3"/>
<line x1="425.45" y1="845.66" x2="414.55" y2="835.34" stroke="#777" stroke-width="3"/>
<text x="271.2" y="858.18" font-size="10.5" text-anchor="middle" font-weight="bold" fill="#231f20" >Complex</text>
<text x="271.2" y="869.58" font-size="10.5" text-anchor="middle" font-weight="bold" fill="#231f20" >formation</text>
<text x="335.7" y="832.38" font-size="10.5" text-anchor="middle" font-weight="bold" fill="#231f20" >Branched</text>
<text x="335.7" y="843.38" font-size="10.5" text-anchor="middle" font-weight="bold" fill="#231f20" >ubiquitylation</text>
<text x="391.4" y="860.08" font-size="10.5" text-anchor="middle" font-weight="bold" fill="#231f20" >Proteasomal</text>
<text x="391.4" y="870.78" font-size="10.5" text-anchor="middle" font-weight="bold" fill="#231f20" >targeting</text>
<text x="478.7" y="902.28" font-size="8" text-anchor="middle" font-weight="bold" fill="#231f20" >Cancer</text>
<text x="478.7" y="911.68" font-size="8" text-anchor="middle" font-weight="bold" fill="#231f20" >cell death</text>
<ellipse cx="176.9" cy="904" rx="25.6" ry="20.4" fill="url(#gpink)" />
<text x="176.9" y="908.69" font-size="10.8" text-anchor="middle" font-weight="normal" fill="#231f20" stroke="#231f20" stroke-width="0.15" >BRD4</text>
<rect x="208.3" y="874.5" width="11.9" height="11.9" fill="#6b3fa0" />
<line x1="220.2" y1="880.45" x2="226.5" y2="880.45" stroke="#111" stroke-width="1.1" />
<polygon points="226,873.7 238.8,880.65 226,887.6" fill="#e8262b"/>
<polygon points="209.1,901.4 230.9,901.4 230.9,898.6 238,905 230.9,911.4 230.9,908.6 209.1,908.6" fill="#2f5fb3"/>
<ellipse cx="267.5" cy="905.3" rx="28.2" ry="20.3" fill="url(#glav)" />
<text x="242.3" y="909.38" font-size="10.5" text-anchor="start" font-weight="normal" fill="#231f20" stroke="#231f20" stroke-width="0.1" >CRL2<tspan font-size="6" dy="-3.4">VHL</tspan></text>
<ellipse cx="328.6" cy="905.1" rx="24.8" ry="21" fill="url(#gpink)" />
<rect x="284" y="898.9" width="12" height="12" fill="#6b3fa0" />
<line x1="296" y1="904.9" x2="301.6" y2="904.9" stroke="#111" stroke-width="1.1" />
<polygon points="301.1,899.2 314.2,905.9 301.1,912.6" fill="#e8262b"/>
<text x="331" y="909.49" font-size="10.8" text-anchor="middle" font-weight="normal" fill="#231f20" stroke="#231f20" stroke-width="0.15" >BRD4</text>
<polygon points="357.2,901.5 378,901.5 378,898.7 385.7,905.1 378,911.5 378,908.7 357.2,908.7" fill="#2f5fb3"/>
<polygon points="430.2,901.9 451.9,901.9 451.9,898.4 459.1,905 451.9,911.6 451.9,908.1 430.2,908.1" fill="#2f5fb3"/>
<line x1="347" y1="855" x2="345.4" y2="866.9" stroke="#f07a7a" stroke-width="1.2" />
<line x1="345.4" y1="866.9" x2="335.3" y2="867.5" stroke="#f07a7a" stroke-width="1.2" />
<line x1="335.3" y1="867.5" x2="332" y2="878.3" stroke="#f07a7a" stroke-width="1.2" />
<line x1="332" y1="878.3" x2="343.7" y2="880.3" stroke="#f07a7a" stroke-width="1.2" />
<line x1="328" y1="884.5" x2="332" y2="878.3" stroke="#f07a7a" stroke-width="1.2" />
<circle cx="347.3" cy="854.6" r="5.1" fill="#ef6f72"/>
<text x="347.3" y="856.2" font-size="4.6" text-anchor="middle" fill="#fff" transform="rotate(80 347.3 854.6)">Ub</text>
<circle cx="346.1" cy="866.3" r="5.1" fill="#ef6f72"/>
<text x="346.1" y="867.9" font-size="4.6" text-anchor="middle" fill="#fff" transform="rotate(80 346.1 866.3)">Ub</text>
<circle cx="334.4" cy="868" r="5.1" fill="#ef6f72"/>
<text x="334.4" y="869.6" font-size="4.6" text-anchor="middle" fill="#fff" transform="rotate(80 334.4 868)">Ub</text>
<circle cx="343.8" cy="880.3" r="5.1" fill="#ef6f72"/>
<text x="343.8" y="881.9" font-size="4.6" text-anchor="middle" fill="#fff" transform="rotate(80 343.8 880.3)">Ub</text>
<circle cx="332.1" cy="879.7" r="5.1" fill="#ef6f72"/>
<text x="332.1" y="881.3" font-size="4.6" text-anchor="middle" fill="#fff" transform="rotate(80 332.1 879.7)">Ub</text>
<ellipse cx="412.6" cy="880" rx="3.1" ry="3.1" fill="url(#gpep)"/>
<ellipse cx="421" cy="879" rx="2.2" ry="2.2" fill="url(#gpep)"/>
<ellipse cx="426.6" cy="875.4" rx="2.3" ry="2.3" fill="url(#gpep)"/>
<ellipse cx="434" cy="878.8" rx="5" ry="3.8" fill="url(#gpep)"/>
<ellipse cx="418.2" cy="887.3" rx="2.8" ry="4.2" fill="url(#gpep)"/>
<ellipse cx="425.4" cy="885.5" rx="3" ry="3.6" fill="url(#gpep)"/>
<ellipse cx="432.6" cy="890.4" rx="3.3" ry="3.3" fill="url(#gpep)"/>
<ellipse cx="438" cy="886.3" rx="2.2" ry="2.2" fill="url(#gpep)"/>
<ellipse cx="441.8" cy="890.6" rx="2.2" ry="2.2" fill="url(#gpep)"/>
<ellipse cx="424.6" cy="893.4" rx="2.3" ry="2.3" fill="url(#gpep)"/>
<g transform="translate(409.8,907.8) rotate(36)"><path d="M-16.5,-20 C-14.5,-19 -15,-14.5 -16,-11.5 L-16.5,7 C-17.5,10 -22,11 -24.5,8 C-27.5,3 -27,-5.5 -24,-10.5 C-22,-13.5 -21,-17 -20,-19 C-19.5,-20.5 -17.5,-20.8 -16.5,-20 Z" fill="#efe5c8" stroke="#444" stroke-width="0.45"/><ellipse cx="-21.6" cy="-3.5" rx="1.6" ry="3.0" fill="#fff" stroke="#444" stroke-width="0.4"/><path d="M16.5,20 C14.5,19 15,14.5 16,11.5 L16.5,-7 C17.5,-10 22,-11 24.5,-8 C27.5,-3 27,5.5 24,10.5 C22,13.5 21,17 20,19 C19.5,20.5 17.5,20.8 16.5,20 Z" fill="#efe5c8" stroke="#444" stroke-width="0.45"/><circle cx="-16.2" cy="-9.2" r="3.45" fill="#f3e26a" stroke="#555" stroke-width="0.3"/><circle cx="-14.8" cy="-3.2" r="3.45" fill="#f3e26a" stroke="#555" stroke-width="0.3"/><circle cx="-16.2" cy="2.8" r="3.45" fill="#f3e26a" stroke="#555" stroke-width="0.3"/><circle cx="-14.8" cy="8.8" r="3.45" fill="#f3e26a" stroke="#555" stroke-width="0.3"/><circle cx="-10.0" cy="-8.2" r="3.45" fill="#b9d85c" stroke="#555" stroke-width="0.3"/><circle cx="-8.600000000000001" cy="-2.2" r="3.45" fill="#f3e26a" stroke="#555" stroke-width="0.3"/><circle cx="-10.0" cy="3.8" r="3.45" fill="#b9d85c" stroke="#555" stroke-width="0.3"/><circle cx="-8.600000000000001" cy="9.8" r="3.45" fill="#b9d85c" stroke="#555" stroke-width="0.3"/><circle cx="-3.8" cy="-9.2" r="3.45" fill="#b9d85c" stroke="#555" stroke-width="0.3"/><circle cx="-2.4000000000000004" cy="-3.2" r="3.45" fill="#e06ab0" stroke="#555" stroke-width="0.3"/><circle cx="-3.8" cy="2.8" r="3.45" fill="#2fa9df" stroke="#555" stroke-width="0.3"/><circle cx="-2.4000000000000004" cy="8.8" r="3.45" fill="#2fa9df" stroke="#555" stroke-width="0.3"/><circle cx="2.4000000000000004" cy="-8.2" r="3.45" fill="#2fa9df" stroke="#555" stroke-width="0.3"/><circle cx="3.8" cy="-2.2" r="3.45" fill="#2fa9df" stroke="#555" stroke-width="0.3"/><circle cx="2.4000000000000004" cy="3.8" r="3.45" fill="#2fa9df" stroke="#555" stroke-width="0.3"/><circle cx="3.8" cy="9.8" r="3.45" fill="#e06ab0" stroke="#555" stroke-width="0.3"/><circle cx="8.600000000000001" cy="-9.2" r="3.45" fill="#b9d85c" stroke="#555" stroke-width="0.3"/><circle cx="10.0" cy="-3.2" r="3.45" fill="#b9d85c" stroke="#555" stroke-width="0.3"/><circle cx="8.600000000000001" cy="2.8" r="3.45" fill="#b9d85c" stroke="#555" stroke-width="0.3"/><circle cx="10.0" cy="8.8" r="3.45" fill="#b9d85c" stroke="#555" stroke-width="0.3"/><circle cx="14.8" cy="-8.2" r="3.45" fill="#f3e26a" stroke="#555" stroke-width="0.3"/><circle cx="16.2" cy="-2.2" r="3.45" fill="#f3e26a" stroke="#555" stroke-width="0.3"/><circle cx="14.8" cy="3.8" r="3.45" fill="#b9d85c" stroke="#555" stroke-width="0.3"/><circle cx="16.2" cy="9.8" r="3.45" fill="#f3e26a" stroke="#555" stroke-width="0.3"/></g>
</svg></body></html>
